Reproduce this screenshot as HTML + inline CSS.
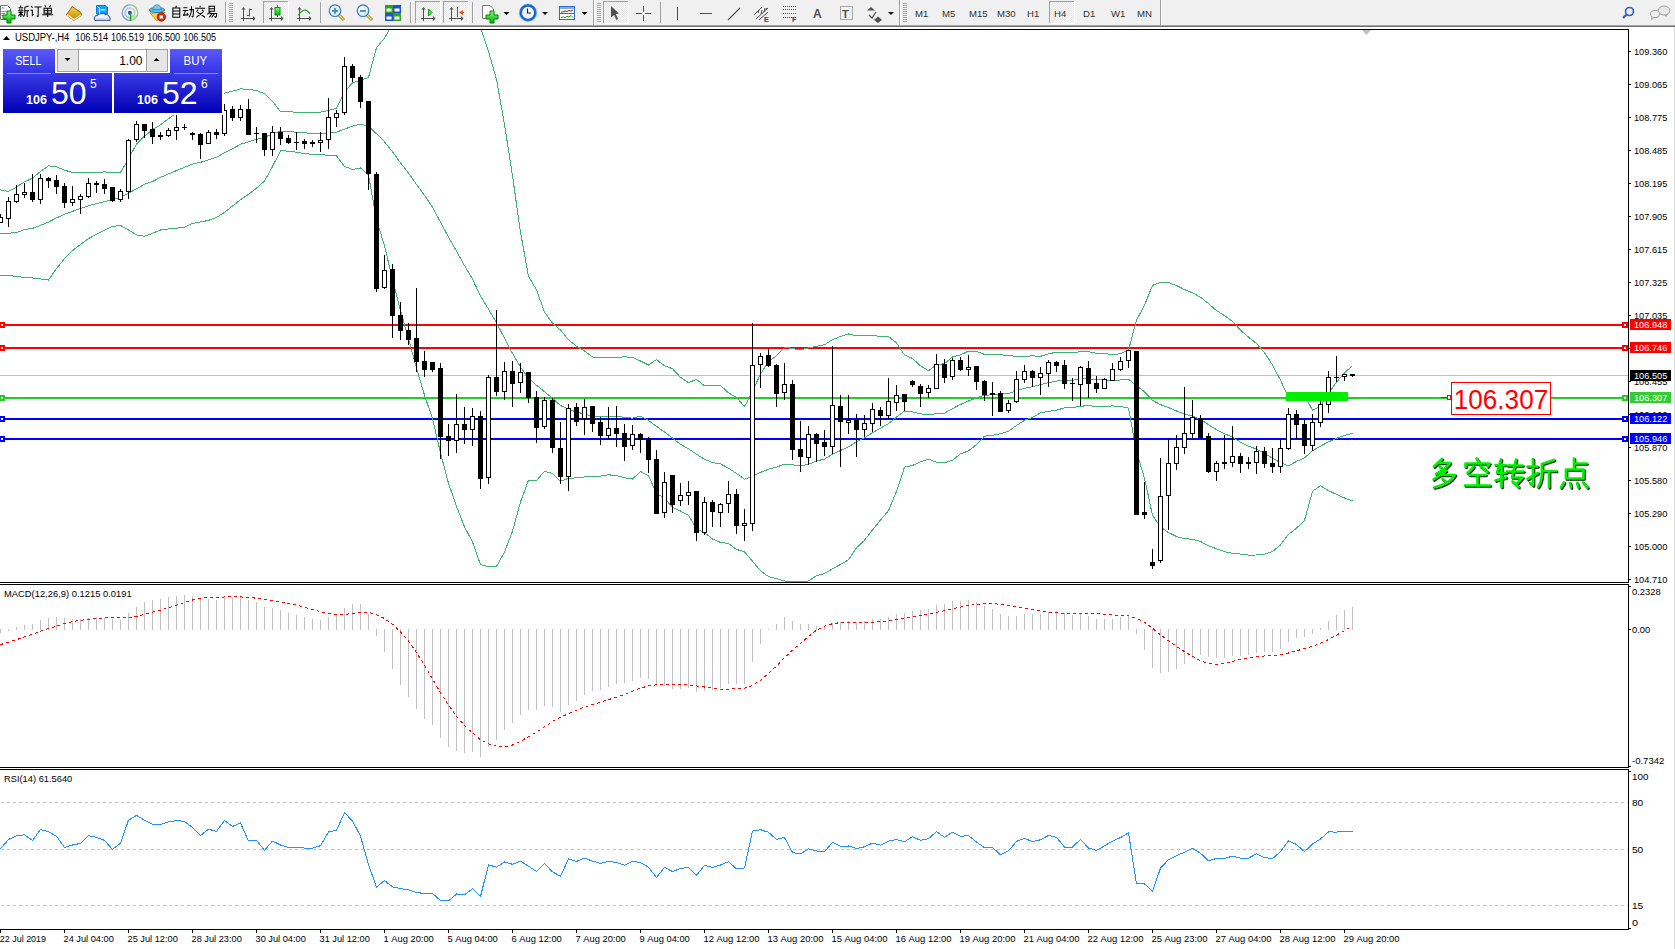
<!DOCTYPE html><html><head><meta charset="utf-8"><style>html,body{margin:0;padding:0;}body{width:1675px;height:949px;overflow:hidden;position:relative;background:#fff;font-family:"Liberation Sans",sans-serif;}text{shape-rendering:auto}</style></head><body><svg width="1675" height="29" style="position:absolute;left:0;top:0"><defs><linearGradient id="tg_gold" x1="0" y1="0" x2="0" y2="1"><stop offset="0" stop-color="#f8d848"/><stop offset="1" stop-color="#b8800c"/></linearGradient><linearGradient id="tg_green" x1="0" y1="0" x2="0" y2="1"><stop offset="0" stop-color="#80ff80"/><stop offset="1" stop-color="#00b000"/></linearGradient><radialGradient id="tg_lens" cx="0.4" cy="0.35" r="0.7"><stop offset="0" stop-color="#ffffff"/><stop offset="1" stop-color="#bfe4f8"/></radialGradient><pattern id="tg_chk" width="2" height="2" patternUnits="userSpaceOnUse"><rect width="2" height="2" fill="#f8f8f8"/><rect width="1" height="1" fill="#e8e8e8"/><rect x="1" y="1" width="1" height="1" fill="#e8e8e8"/></pattern></defs><rect x="0" y="0" width="1675" height="25" fill="#f0f0f0"/><rect x="0" y="25" width="1675" height="1" fill="#a8a8a8"/><rect x="0" y="26" width="1675" height="1" fill="#6e6e6e"/><rect x="0" y="27" width="1675" height="2" fill="#ffffff"/><path d="M0.5 5.5H7.5L10.5 8.5V19.5H0.5Z" fill="#fff" stroke="#7a7a7a"/><path d="M1.5 8h3M1.5 11.5h5M1.5 13.5h4M1.5 15.5h2" stroke="#909090" stroke-width="1"/><path d="M7 11.5h4v-4h4v4h4v4h-4v4h-4v-4h-4z" transform="translate(-4,3.5)" fill="url(#tg_green)" stroke="#008000" stroke-width="1"/><path d="M3 0.2V1.6 M0.6 2.4H5.6 M1.6 3.4L2.2 4.6 M4.6 3.4L4 4.6 M0.2 5.5H6 M0.6 7.4H5.6 M3.1 5.5V12 M3 8.4L0.4 11 M3.2 8.4L5.6 10.6 M11.6 0.6L7.4 2 M7.4 2V7.6Q7.2 10.4 6 12 M7.4 5.6H12 M10 5.6V12" transform="translate(18,5.4) scale(0.917,0.958)" fill="none" stroke="#000" stroke-width="1.1" stroke-linecap="butt"/><path d="M0.8 0.8L2.2 2.4 M0 5H2V10.4L3.6 9 M4.4 1.6H12 M8.4 1.6V11.4Q8.2 12 6.8 10.8" transform="translate(30.5,5.4) scale(0.917,0.958)" fill="none" stroke="#000" stroke-width="1.1" stroke-linecap="butt"/><path d="M2.8 0L4 1.8 M9.2 0L8 1.8 M2 3H10V8.2H2Z M2 5.6H10 M6 3V12 M0 9.8H12" transform="translate(42.2,5.4) scale(0.917,0.958)" fill="none" stroke="#000" stroke-width="1.1" stroke-linecap="butt"/><path d="M6.2 0L5.4 1.8 M2.2 2.2H9.8V12H2.2Z M2.2 5.4H9.8 M2.2 8.6H9.8" transform="translate(170.8,5.8) scale(0.917,0.958)" fill="none" stroke="#000" stroke-width="1.1" stroke-linecap="butt"/><path d="M0.6 2H5 M0 5H6 M3 5L0.8 10L5.6 9.2 M4.6 7.6L6 10 M7 4H11.6Q11.6 10 10.8 11.6L9.6 10.8 M9.4 0.4V5Q9.2 9 6.8 12" transform="translate(182.8,5.8) scale(0.917,0.958)" fill="none" stroke="#000" stroke-width="1.1" stroke-linecap="butt"/><path d="M6 0V1.6 M0.4 2.6H11.6 M4 4L2 6 M8 4L10 6 M9.2 6.6L2 12 M3 6.6L11.4 12" transform="translate(194.6,5.8) scale(0.917,0.958)" fill="none" stroke="#000" stroke-width="1.1" stroke-linecap="butt"/><path d="M3 0.4H9V5.6H3Z M3 3H9 M4.4 6.2L1 9 M3.6 8H11.4Q11.2 11 10.4 12L8.8 11.2 M6.4 8L3.2 12 M9 8L5.8 12" transform="translate(206.3,5.8) scale(0.917,0.958)" fill="none" stroke="#000" stroke-width="1.1" stroke-linecap="butt"/><path d="M71.9 6.5L81 12.6L81.6 15.3L73.9 20.4L66.3 14.8L70.6 9Z" fill="url(#tg_gold)" stroke="#9a6208" stroke-width="1"/><path d="M67 14.6L74 19.6L81 15" fill="none" stroke="#f8e8a0" stroke-width="1.3"/><path d="M96.5 5.5H105L107.5 7V14H96.5Z" fill="#16a0f8" stroke="#0a78d8" stroke-width="1"/><path d="M97 6L99.5 8V14" stroke="#ffffff" stroke-width="0.9" fill="none"/><rect x="100.5" y="9.2" width="5" height="1.2" fill="#e0f4ff"/><path d="M95.5 20.5Q93.6 19.8 94.6 17Q95.4 15.3 97.2 15.6Q98.6 13.2 101.5 13.8Q103.4 12.6 105.5 14.6Q108.2 14.2 109 16.4Q110.6 17.4 109.8 20.5Z" fill="#eef1f8" stroke="#43609a" stroke-width="1.1"/><rect x="96" y="18.5" width="13" height="1.6" fill="#c0c8dc"/><g fill="none" stroke-width="1.3"><path d="M130 20.5A7.8 7.8 0 0 1 130 4.9" stroke="#7a9ce0"/><path d="M130 4.9A7.8 7.8 0 0 1 130 20.5" stroke="#90c0a0"/><path d="M130 17.6A4.9 4.9 0 0 1 130 7.8" stroke="#a0b8e8"/><path d="M130 7.8A4.9 4.9 0 0 1 130 17.6" stroke="#b0d4b0"/></g><path d="M130.5 13V20.8A7.8 7.8 0 0 0 137.2 16.5Z" fill="#a8d8a0" opacity="0.6"/><circle cx="129.9" cy="12.7" r="2" fill="#2050c8"/><rect x="129.8" y="13" width="1.4" height="8" fill="#18a018"/><path d="M150 13L157 20.8L165 12.5Z" fill="#f4d848" stroke="#c09010" stroke-width="1"/><ellipse cx="157" cy="10" rx="7.6" ry="2.6" fill="#60b8e8" stroke="#2a80b0" stroke-width="1"/><path d="M152.5 9.5Q153.5 5 157 4.8Q160.5 5 161.5 9.5Z" fill="#80c8f0" stroke="#2a80b0" stroke-width="0.8"/><circle cx="161.3" cy="17" r="4.2" fill="#e02408" stroke="#a81000" stroke-width="0.8"/><rect x="159.6" y="15.4" width="3.4" height="3.2" fill="#fff"/><rect x="225" y="2" width="1" height="21" fill="#a0a0a0"/><rect x="226" y="2" width="1" height="21" fill="#ffffff"/><rect x="229" y="3" width="4" height="1" fill="#a8a8a8"/><rect x="229" y="5" width="4" height="1" fill="#a8a8a8"/><rect x="229" y="7" width="4" height="1" fill="#a8a8a8"/><rect x="229" y="9" width="4" height="1" fill="#a8a8a8"/><rect x="229" y="11" width="4" height="1" fill="#a8a8a8"/><rect x="229" y="13" width="4" height="1" fill="#a8a8a8"/><rect x="229" y="15" width="4" height="1" fill="#a8a8a8"/><rect x="229" y="17" width="4" height="1" fill="#a8a8a8"/><rect x="229" y="19" width="4" height="1" fill="#a8a8a8"/><rect x="229" y="21" width="4" height="1" fill="#a8a8a8"/><rect x="243" y="8" width="1" height="13" fill="#505050"/><rect x="241" y="18" width="14" height="1" fill="#505050"/><path d="M241.5 9.5L243.5 7L245.5 9.5Z" fill="#505050"/><path d="M253 16L255.5 18.5L253 21Z" fill="#505050"/><path d="M249.5 8.5V16.5M249.5 9.5H252M247 15.5H249.5" stroke="#109010" stroke-width="1" fill="none"/><rect x="263" y="1" width="25" height="22" fill="url(#tg_chk)"/><rect x="263" y="1" width="25" height="1" fill="#a0a0a0"/><rect x="263" y="1" width="1" height="22" fill="#a0a0a0"/><rect x="263" y="23" width="26" height="1" fill="#fff"/><rect x="288" y="1" width="1" height="23" fill="#fff"/><rect x="271" y="8" width="1" height="13" fill="#505050"/><rect x="269" y="18" width="14" height="1" fill="#505050"/><path d="M269.5 9.5L271.5 7L273.5 9.5Z" fill="#505050"/><path d="M281 16L283.5 18.5L281 21Z" fill="#505050"/><rect x="277" y="5" width="1" height="12" fill="#109010"/><rect x="275" y="7.5" width="5" height="7.5" fill="url(#tg_green)" stroke="#109010" stroke-width="1"/><rect x="299" y="8" width="1" height="13" fill="#505050"/><rect x="297" y="18" width="14" height="1" fill="#505050"/><path d="M297.5 9.5L299.5 7L301.5 9.5Z" fill="#505050"/><path d="M309 16L311.5 18.5L309 21Z" fill="#505050"/><path d="M298 15.5Q301 11.5 304 10Q306 9.5 310 13.5" fill="none" stroke="#30a030" stroke-width="1.2"/><rect x="320" y="2" width="1" height="21" fill="#a0a0a0"/><rect x="321" y="2" width="1" height="21" fill="#ffffff"/><path d="M338 14L344 20" stroke="#b08810" stroke-width="3"/><path d="M338.5 14.5L343.5 19.5" stroke="#f0d860" stroke-width="1.4"/><circle cx="335" cy="10.7" r="5.8" fill="url(#tg_lens)" stroke="#3a78c8" stroke-width="1.2"/><rect x="332" y="10" width="6" height="1.8" fill="#4a88b8"/><rect x="334.1" y="7.8" width="1.8" height="6" fill="#4a88b8"/><path d="M366 14L372 20" stroke="#b08810" stroke-width="3"/><path d="M366.5 14.5L371.5 19.5" stroke="#f0d860" stroke-width="1.4"/><circle cx="363" cy="10.7" r="5.8" fill="url(#tg_lens)" stroke="#3a78c8" stroke-width="1.2"/><rect x="360" y="10" width="6" height="1.8" fill="#4a88b8"/><rect x="385" y="5" width="8" height="8" fill="#30a020"/><rect x="393" y="5" width="8" height="8" fill="#2050d0"/><rect x="385" y="13" width="8" height="8" fill="#2050d0"/><rect x="393" y="13" width="8" height="8" fill="#30a020"/><rect x="386.5" y="8.5" width="5" height="3" fill="#fff"/><rect x="394.5" y="8.5" width="5" height="3" fill="#fff"/><rect x="386.5" y="16.5" width="5" height="3" fill="#fff"/><rect x="394.5" y="16.5" width="5" height="3" fill="#fff"/><rect x="410" y="2" width="1" height="21" fill="#a0a0a0"/><rect x="411" y="2" width="1" height="21" fill="#ffffff"/><rect x="415" y="1" width="25" height="22" fill="url(#tg_chk)"/><rect x="415" y="1" width="25" height="1" fill="#a0a0a0"/><rect x="415" y="1" width="1" height="22" fill="#a0a0a0"/><rect x="415" y="23" width="26" height="1" fill="#fff"/><rect x="440" y="1" width="1" height="23" fill="#fff"/><rect x="423" y="8" width="1" height="13" fill="#505050"/><rect x="421" y="18" width="14" height="1" fill="#505050"/><path d="M421.5 9.5L423.5 7L425.5 9.5Z" fill="#505050"/><path d="M433 16L435.5 18.5L433 21Z" fill="#505050"/><path d="M428.5 9V16L432 12.5Z" fill="#50e050" stroke="#10a010" stroke-width="1"/><rect x="443" y="1" width="25" height="22" fill="url(#tg_chk)"/><rect x="443" y="1" width="25" height="1" fill="#a0a0a0"/><rect x="443" y="1" width="1" height="22" fill="#a0a0a0"/><rect x="443" y="23" width="26" height="1" fill="#fff"/><rect x="468" y="1" width="1" height="23" fill="#fff"/><rect x="451" y="8" width="1" height="13" fill="#505050"/><rect x="449" y="18" width="14" height="1" fill="#505050"/><path d="M449.5 9.5L451.5 7L453.5 9.5Z" fill="#505050"/><path d="M461 16L463.5 18.5L461 21Z" fill="#505050"/><rect x="457" y="7" width="1" height="10" fill="#1a70b0"/><path d="M459 12.5L463 10V15Z" fill="#e05010"/><rect x="461" y="12" width="3" height="1" fill="#e05010"/><rect x="472" y="2" width="1" height="21" fill="#a0a0a0"/><rect x="473" y="2" width="1" height="21" fill="#ffffff"/><path d="M482.5 5.5H490L493.5 9V18.5H482.5Z" fill="#fff" stroke="#7a7a7a"/><path d="M7 11.5h4v-4h4v4h4v4h-4v4h-4v-4h-4z" transform="translate(479,3.5)" fill="url(#tg_green)" stroke="#008000" stroke-width="1"/><path d="M503.5 12H509.5L506.5 15Z" fill="#000"/><circle cx="528" cy="12.7" r="7.3" fill="#f4f8ff" stroke="#1868d0" stroke-width="2.6"/><circle cx="528" cy="12.7" r="8.7" fill="none" stroke="#5aa0f0" stroke-width="0.6"/><path d="M527.5 8.5V13H531" stroke="#202020" stroke-width="1.2" fill="none"/><path d="M542 12H548L545 15Z" fill="#000"/><rect x="559.5" y="6.5" width="15" height="13" fill="#fff" stroke="#2a70c0"/><rect x="560" y="7" width="14" height="2" fill="#7ab0e8"/><rect x="560" y="13" width="14" height="1" fill="#2a70c0"/><path d="M561 12L563 12L565 11L567 11.5L569 10.5L571 11L573 10" stroke="#a02010" fill="none"/><path d="M561 17.5L563 17L565 17.5L567 16.5L569 17L571 15.5L573 17.5" stroke="#10a010" fill="none"/><path d="M581.5 12H587.5L584.5 15Z" fill="#000"/><rect x="593" y="0" width="1" height="25" fill="#a0a0a0"/><rect x="594" y="0" width="1" height="25" fill="#fff"/><rect x="597" y="3" width="4" height="1" fill="#a8a8a8"/><rect x="597" y="5" width="4" height="1" fill="#a8a8a8"/><rect x="597" y="7" width="4" height="1" fill="#a8a8a8"/><rect x="597" y="9" width="4" height="1" fill="#a8a8a8"/><rect x="597" y="11" width="4" height="1" fill="#a8a8a8"/><rect x="597" y="13" width="4" height="1" fill="#a8a8a8"/><rect x="597" y="15" width="4" height="1" fill="#a8a8a8"/><rect x="597" y="17" width="4" height="1" fill="#a8a8a8"/><rect x="597" y="19" width="4" height="1" fill="#a8a8a8"/><rect x="597" y="21" width="4" height="1" fill="#a8a8a8"/><rect x="603" y="1" width="25" height="22" fill="url(#tg_chk)"/><rect x="603" y="1" width="25" height="1" fill="#a0a0a0"/><rect x="603" y="1" width="1" height="22" fill="#a0a0a0"/><rect x="603" y="23" width="26" height="1" fill="#fff"/><rect x="628" y="1" width="1" height="23" fill="#fff"/><path d="M611 6L619 13.5L615.8 14L618 19L616.3 20L614.2 15L611 17.5Z" fill="#505050"/><path d="M643.5 6V12M643.5 15V21M636 13.5H642M645 13.5H651" stroke="#505050" stroke-width="1" shape-rendering="crispEdges"/><rect x="660" y="2" width="1" height="21" fill="#a0a0a0"/><rect x="677" y="7" width="1" height="13" fill="#505050"/><rect x="700" y="13" width="12" height="1" fill="#505050"/><path d="M728 20L740 8" stroke="#505050" stroke-width="1.1"/><path d="M754 15L762 7M756 19L768 8M759 20L768 12" stroke="#505050" stroke-width="1"/><path d="M758 13l1-3M761 14l1-4M764 12l1-4M766 10l0.5-2" stroke="#505050" stroke-width="1"/><text x="764" y="22" font-family="Liberation Sans, sans-serif" font-size="7px" font-weight="bold" fill="#404040">E</text><path d="M783 6.5H796" stroke="#505050" stroke-width="1" stroke-dasharray="1 1"/><path d="M783 9.5H796" stroke="#505050" stroke-width="1" stroke-dasharray="1 1"/><path d="M783 13.5H796" stroke="#505050" stroke-width="1" stroke-dasharray="1 1"/><path d="M783 17.5H796" stroke="#505050" stroke-width="1" stroke-dasharray="1 1"/><text x="792" y="22" font-family="Liberation Sans, sans-serif" font-size="7px" font-weight="bold" fill="#404040">F</text><text x="813" y="18" font-family="Liberation Sans, sans-serif" font-size="12px" font-weight="bold" fill="#505050">A</text><rect x="840.5" y="6.5" width="12" height="13" fill="none" stroke="#606060" stroke-dasharray="1 1"/><text x="842" y="18" font-family="Liberation Sans, sans-serif" font-size="11px" font-weight="bold" fill="#505050">T</text><path d="M867 10.5L871 7L875 10.5Z M874 20L878 16.5L882 20L878 23Z" fill="#505050"/><path d="M869 15L872 18L876 12" stroke="#505050" stroke-width="1.3" fill="none"/><path d="M888 12H894L891 15Z" fill="#000"/><rect x="899" y="0" width="1" height="25" fill="#a0a0a0"/><rect x="900" y="0" width="1" height="25" fill="#fff"/><rect x="903" y="3" width="4" height="1" fill="#a8a8a8"/><rect x="903" y="5" width="4" height="1" fill="#a8a8a8"/><rect x="903" y="7" width="4" height="1" fill="#a8a8a8"/><rect x="903" y="9" width="4" height="1" fill="#a8a8a8"/><rect x="903" y="11" width="4" height="1" fill="#a8a8a8"/><rect x="903" y="13" width="4" height="1" fill="#a8a8a8"/><rect x="903" y="15" width="4" height="1" fill="#a8a8a8"/><rect x="903" y="17" width="4" height="1" fill="#a8a8a8"/><rect x="903" y="19" width="4" height="1" fill="#a8a8a8"/><rect x="903" y="21" width="4" height="1" fill="#a8a8a8"/><rect x="1049" y="1" width="25" height="22" fill="url(#tg_chk)"/><rect x="1049" y="1" width="25" height="1" fill="#a0a0a0"/><rect x="1049" y="1" width="1" height="22" fill="#a0a0a0"/><rect x="1049" y="23" width="26" height="1" fill="#fff"/><rect x="1074" y="1" width="1" height="23" fill="#fff"/><text x="915" y="17" font-family="Liberation Sans, sans-serif" font-size="9.6px" fill="#303030">M1</text><text x="942" y="17" font-family="Liberation Sans, sans-serif" font-size="9.6px" fill="#303030">M5</text><text x="969" y="17" font-family="Liberation Sans, sans-serif" font-size="9.6px" fill="#303030">M15</text><text x="997" y="17" font-family="Liberation Sans, sans-serif" font-size="9.6px" fill="#303030">M30</text><text x="1027" y="17" font-family="Liberation Sans, sans-serif" font-size="9.6px" fill="#303030">H1</text><text x="1054" y="17" font-family="Liberation Sans, sans-serif" font-size="9.6px" fill="#303030">H4</text><text x="1083" y="17" font-family="Liberation Sans, sans-serif" font-size="9.6px" fill="#303030">D1</text><text x="1111" y="17" font-family="Liberation Sans, sans-serif" font-size="9.6px" fill="#303030">W1</text><text x="1137" y="17" font-family="Liberation Sans, sans-serif" font-size="9.6px" fill="#303030">MN</text><rect x="1160" y="0" width="1" height="25" fill="#a0a0a0"/><rect x="1161" y="0" width="1" height="25" fill="#fff"/><circle cx="1629.5" cy="11.5" r="4" fill="none" stroke="#2a5ad0" stroke-width="1.6"/><path d="M1626.5 14.5L1623 18" stroke="#2a5ad0" stroke-width="2.2"/><ellipse cx="1664" cy="10.5" rx="5.8" ry="4.5" fill="#e8e8e8" stroke="#a0a0a0"/><path d="M1665 14.5l1 2l1-2.5" fill="#e8e8e8" stroke="#a0a0a0"/><ellipse cx="1655" cy="14" rx="4.5" ry="3.6" fill="#f0f0f0" stroke="#a0a0a0"/><path d="M1652 17.2l-0.5 2.3l2.5-2" fill="#f0f0f0" stroke="#a0a0a0"/></svg><svg width="1675" height="949" viewBox="0 0 1675 949" style="position:absolute;left:0;top:0" shape-rendering="crispEdges"><defs><clipPath id="cm"><rect x="0" y="30" width="1628" height="552"/></clipPath><clipPath id="cd"><rect x="0" y="585" width="1628" height="182"/></clipPath><clipPath id="cr"><rect x="0" y="770" width="1628" height="159"/></clipPath><linearGradient id="gtab" x1="0" y1="0" x2="0" y2="1"><stop offset="0" stop-color="#5a5af8"/><stop offset="1" stop-color="#3434e4"/></linearGradient><linearGradient id="gblk" x1="0" y1="0" x2="0" y2="1"><stop offset="0" stop-color="#3a3ae6"/><stop offset="1" stop-color="#0000b4"/></linearGradient></defs><rect x="0" y="29" width="1629" height="1" fill="#000"/><rect x="1628" y="29" width="1" height="554" fill="#000"/><rect x="0" y="582" width="1629" height="1" fill="#000"/><rect x="0" y="584" width="1629" height="1" fill="#000"/><rect x="1628" y="584" width="1" height="184" fill="#000"/><rect x="0" y="767" width="1629" height="1" fill="#000"/><rect x="0" y="769" width="1629" height="1" fill="#000"/><rect x="1628" y="769" width="1" height="161" fill="#000"/><rect x="0" y="929" width="1629" height="1" fill="#000"/><rect x="1674" y="27" width="1" height="922" fill="#d8d8d8"/><g clip-path="url(#cm)"><rect x="0" y="324" width="1628" height="2" fill="#ff0000"/><rect x="-1" y="322" width="6" height="6" fill="#ff0000"/><rect x="1" y="324" width="2" height="2" fill="#fff"/><rect x="1622" y="322" width="6" height="6" fill="#ff0000"/><rect x="1624" y="324" width="2" height="2" fill="#fff"/><rect x="0" y="347" width="1628" height="2" fill="#ff0000"/><rect x="-1" y="345" width="6" height="6" fill="#ff0000"/><rect x="1" y="347" width="2" height="2" fill="#fff"/><rect x="1622" y="345" width="6" height="6" fill="#ff0000"/><rect x="1624" y="347" width="2" height="2" fill="#fff"/><rect x="0" y="375" width="1628" height="1" fill="#c0c0c0"/><rect x="0" y="397" width="1628" height="2" fill="#22cc22"/><rect x="-1" y="395" width="6" height="6" fill="#22cc22"/><rect x="1" y="397" width="2" height="2" fill="#fff"/><rect x="1622" y="395" width="6" height="6" fill="#22cc22"/><rect x="1624" y="397" width="2" height="2" fill="#fff"/><rect x="0" y="418" width="1628" height="2" fill="#0000ff"/><rect x="-1" y="416" width="6" height="6" fill="#0000ff"/><rect x="1" y="418" width="2" height="2" fill="#fff"/><rect x="1622" y="416" width="6" height="6" fill="#0000ff"/><rect x="1624" y="418" width="2" height="2" fill="#fff"/><rect x="0" y="438" width="1628" height="2" fill="#0000ff"/><rect x="-1" y="436" width="6" height="6" fill="#0000ff"/><rect x="1" y="438" width="2" height="2" fill="#fff"/><rect x="1622" y="436" width="6" height="6" fill="#0000ff"/><rect x="1624" y="438" width="2" height="2" fill="#fff"/><polyline points="-7.5,189.9 0.5,189.9 8.5,191.5 16.5,187.0 24.5,181.9 32.5,178.1 40.5,171.5 48.5,165.8 56.5,166.9 64.5,170.1 72.5,172.5 80.5,172.4 88.5,172.3 96.5,172.1 104.5,172.0 112.5,172.1 120.5,172.4 128.5,159.1 136.5,143.8 144.5,136.1 152.5,129.7 160.5,124.9 168.5,118.8 176.5,112.8 184.5,107.5 192.5,104.6 200.5,102.7 208.5,99.5 216.5,97.3 224.5,93.1 232.5,91.2 240.5,88.9 248.5,89.3 256.5,90.5 264.5,93.7 272.5,101.3 280.5,111.8 288.5,111.7 296.5,112.3 304.5,112.3 312.5,112.2 320.5,112.2 328.5,110.5 336.5,108.3 344.5,91.9 352.5,82.9 360.5,80.3 368.5,77.4 376.5,47.8 384.5,38.1 392.5,24.1 400.5,15.0 408.5,7.2 416.5,0.7 424.5,-4.3 432.5,-3.9 440.5,-8.6 448.5,-9.1 456.5,-3.9 464.5,4.2 472.5,16.2 480.5,27.5 488.5,51.4 496.5,79.4 504.5,124.4 512.5,175.8 520.5,232.1 528.5,276.3 536.5,289.9 544.5,312.1 552.5,323.3 560.5,330.0 568.5,339.8 576.5,346.2 584.5,351.0 592.5,357.0 600.5,357.1 608.5,357.2 616.5,357.3 624.5,356.9 632.5,357.3 640.5,361.0 648.5,365.0 656.5,359.5 664.5,365.8 672.5,368.7 680.5,377.4 688.5,382.6 696.5,379.4 704.5,385.9 712.5,386.0 720.5,385.4 728.5,392.9 736.5,397.4 744.5,406.6 752.5,391.4 760.5,374.0 768.5,361.8 776.5,355.8 784.5,347.2 792.5,348.5 800.5,349.9 808.5,347.9 816.5,346.3 824.5,344.8 832.5,339.5 840.5,336.6 848.5,334.0 856.5,335.8 864.5,335.3 872.5,335.4 880.5,336.5 888.5,336.5 896.5,342.9 904.5,354.9 912.5,358.4 920.5,365.8 928.5,370.7 936.5,364.8 944.5,363.6 952.5,357.0 960.5,354.9 968.5,351.1 976.5,351.3 984.5,354.4 992.5,354.2 1000.5,354.8 1008.5,355.5 1016.5,356.4 1024.5,356.3 1032.5,355.9 1040.5,356.3 1048.5,353.9 1056.5,352.1 1064.5,352.7 1072.5,352.7 1080.5,351.6 1088.5,351.6 1096.5,353.3 1104.5,353.4 1112.5,354.9 1120.5,353.6 1128.5,350.2 1136.5,320.1 1144.5,305.3 1152.5,285.4 1160.5,282.3 1168.5,282.6 1176.5,285.5 1184.5,289.6 1192.5,292.8 1200.5,297.2 1208.5,303.6 1216.5,310.6 1224.5,315.7 1232.5,321.3 1240.5,330.1 1248.5,337.1 1256.5,343.5 1264.5,352.6 1272.5,365.0 1280.5,380.3 1288.5,397.4 1296.5,394.5 1304.5,395.4 1312.5,410.2 1320.5,406.6 1328.5,393.1 1336.5,382.3 1344.5,372.8 1352.5,365.8" fill="none" stroke="#3cb371" stroke-width="1"/><polyline points="-7.5,233.2 0.5,233.2 8.5,233.2 16.5,232.5 24.5,229.6 32.5,228.4 40.5,225.3 48.5,222.1 56.5,217.9 64.5,214.3 72.5,211.4 80.5,208.4 88.5,205.8 96.5,203.6 104.5,201.7 112.5,199.8 120.5,197.2 128.5,193.2 136.5,188.8 144.5,184.3 152.5,181.5 160.5,177.4 168.5,173.9 176.5,170.6 184.5,167.3 192.5,164.1 200.5,162.3 208.5,159.9 216.5,157.3 224.5,152.8 232.5,148.7 240.5,144.3 248.5,141.8 256.5,139.3 264.5,137.3 272.5,133.9 280.5,131.3 288.5,131.4 296.5,132.3 304.5,132.9 312.5,133.3 320.5,133.5 328.5,132.8 336.5,132.2 344.5,129.1 352.5,126.2 360.5,124.1 368.5,126.2 376.5,133.8 384.5,141.8 392.5,151.8 400.5,162.8 408.5,173.1 416.5,184.4 424.5,195.4 432.5,207.3 440.5,222.2 448.5,237.1 456.5,251.2 464.5,265.5 472.5,279.1 480.5,296.1 488.5,309.1 496.5,322.9 504.5,338.2 512.5,353.5 520.5,367.1 528.5,378.2 536.5,385.2 544.5,391.7 552.5,398.3 560.5,405.6 568.5,409.1 576.5,412.1 584.5,413.9 592.5,416.6 600.5,416.6 608.5,416.0 616.5,416.4 624.5,417.3 632.5,418.2 640.5,416.2 648.5,420.4 656.5,426.4 664.5,432.0 672.5,438.1 680.5,444.2 688.5,448.9 696.5,454.2 704.5,459.3 712.5,462.5 720.5,463.9 728.5,468.2 736.5,473.4 744.5,479.2 752.5,476.3 760.5,472.4 768.5,469.2 776.5,467.2 784.5,464.1 792.5,464.9 800.5,465.7 808.5,464.4 816.5,460.9 824.5,459.1 832.5,454.2 840.5,450.5 848.5,446.9 856.5,441.8 864.5,437.8 872.5,432.7 880.5,428.2 888.5,423.6 896.5,417.1 904.5,411.0 912.5,411.9 920.5,413.8 928.5,414.9 936.5,413.5 944.5,413.1 952.5,408.7 960.5,404.4 968.5,401.0 976.5,397.9 984.5,395.3 992.5,394.8 1000.5,394.2 1008.5,393.4 1016.5,390.9 1024.5,388.3 1032.5,386.7 1040.5,384.6 1048.5,382.6 1056.5,381.1 1064.5,380.2 1072.5,380.2 1080.5,378.9 1088.5,378.6 1096.5,379.9 1104.5,379.9 1112.5,380.4 1120.5,380.0 1128.5,379.1 1136.5,385.8 1144.5,391.8 1152.5,400.4 1160.5,404.6 1168.5,407.6 1176.5,411.0 1184.5,414.1 1192.5,416.1 1200.5,419.3 1208.5,424.8 1216.5,429.6 1224.5,433.6 1232.5,437.3 1240.5,442.1 1248.5,446.1 1256.5,449.2 1264.5,453.4 1272.5,458.3 1280.5,462.6 1288.5,465.9 1296.5,461.4 1304.5,457.9 1312.5,450.8 1320.5,446.1 1328.5,441.9 1336.5,438.4 1344.5,435.4 1352.5,433.3" fill="none" stroke="#3cb371" stroke-width="1"/><polyline points="-7.5,275.2 0.5,275.2 8.5,275.5 16.5,276.4 24.5,277.5 32.5,277.9 40.5,279.0 48.5,280.1 56.5,268.4 64.5,258.7 72.5,250.7 80.5,244.4 88.5,238.6 96.5,234.3 104.5,230.3 112.5,226.4 120.5,225.5 128.5,230.0 136.5,234.9 144.5,236.3 152.5,233.3 160.5,230.0 168.5,229.0 176.5,228.3 184.5,227.1 192.5,223.5 200.5,222.0 208.5,220.4 216.5,217.4 224.5,212.4 232.5,206.1 240.5,199.7 248.5,194.4 256.5,188.1 264.5,181.0 272.5,166.6 280.5,150.8 288.5,151.1 296.5,152.3 304.5,153.6 312.5,154.4 320.5,154.8 328.5,155.2 336.5,156.0 344.5,166.3 352.5,169.6 360.5,167.9 368.5,174.9 376.5,219.9 384.5,245.6 392.5,279.4 400.5,310.6 408.5,338.9 416.5,368.2 424.5,395.2 432.5,418.5 440.5,453.0 448.5,483.3 456.5,506.3 464.5,526.8 472.5,542.1 480.5,564.6 488.5,566.7 496.5,566.5 504.5,552.0 512.5,531.2 520.5,502.0 528.5,480.2 536.5,480.5 544.5,471.3 552.5,473.3 560.5,481.2 568.5,478.3 576.5,477.9 584.5,476.9 592.5,476.3 600.5,476.1 608.5,474.8 616.5,475.6 624.5,477.7 632.5,479.1 640.5,471.5 648.5,475.7 656.5,493.4 664.5,498.2 672.5,507.4 680.5,511.0 688.5,515.3 696.5,529.0 704.5,532.7 712.5,539.0 720.5,542.4 728.5,543.5 736.5,549.4 744.5,551.8 752.5,561.2 760.5,570.7 768.5,576.6 776.5,578.6 784.5,581.0 792.5,581.2 800.5,581.5 808.5,581.0 816.5,575.6 824.5,573.5 832.5,568.9 840.5,564.4 848.5,559.8 856.5,547.7 864.5,540.3 872.5,530.0 880.5,520.0 888.5,510.7 896.5,491.3 904.5,467.1 912.5,465.5 920.5,461.8 928.5,459.2 936.5,462.2 944.5,462.7 952.5,460.4 960.5,453.8 968.5,450.9 976.5,444.5 984.5,436.2 992.5,435.3 1000.5,433.7 1008.5,431.3 1016.5,425.4 1024.5,420.3 1032.5,417.5 1040.5,412.9 1048.5,411.4 1056.5,410.2 1064.5,407.8 1072.5,407.7 1080.5,406.2 1088.5,405.7 1096.5,406.4 1104.5,406.5 1112.5,405.9 1120.5,406.4 1128.5,408.1 1136.5,451.5 1144.5,478.3 1152.5,515.3 1160.5,526.9 1168.5,532.6 1176.5,536.5 1184.5,538.6 1192.5,539.4 1200.5,541.4 1208.5,545.9 1216.5,548.7 1224.5,551.6 1232.5,553.3 1240.5,554.1 1248.5,555.1 1256.5,555.0 1264.5,554.3 1272.5,551.6 1280.5,545.0 1288.5,534.3 1296.5,528.2 1304.5,520.4 1312.5,491.3 1320.5,485.7 1328.5,490.6 1336.5,494.4 1344.5,498.0 1352.5,500.8" fill="none" stroke="#3cb371" stroke-width="1"/><rect x="0" y="214" width="1" height="9" fill="#000"/><rect x="-2" y="217" width="5" height="6" fill="#000"/><rect x="-1" y="218" width="3" height="4" fill="#fff"/><rect x="8" y="197" width="1" height="30" fill="#000"/><rect x="6" y="201" width="5" height="18" fill="#000"/><rect x="7" y="202" width="3" height="16" fill="#fff"/><rect x="16" y="185" width="1" height="18" fill="#000"/><rect x="14" y="194" width="5" height="8" fill="#000"/><rect x="15" y="195" width="3" height="6" fill="#fff"/><rect x="24" y="183" width="1" height="15" fill="#000"/><rect x="22" y="192" width="5" height="3" fill="#000"/><rect x="23" y="193" width="3" height="1" fill="#fff"/><rect x="32" y="174" width="1" height="28" fill="#000"/><rect x="30" y="192" width="5" height="8" fill="#000"/><rect x="40" y="174" width="1" height="30" fill="#000"/><rect x="38" y="178" width="5" height="22" fill="#000"/><rect x="39" y="179" width="3" height="20" fill="#fff"/><rect x="48" y="177" width="1" height="11" fill="#000"/><rect x="46" y="178" width="5" height="3" fill="#000"/><rect x="56" y="175" width="1" height="19" fill="#000"/><rect x="54" y="180" width="5" height="7" fill="#000"/><rect x="64" y="183" width="1" height="25" fill="#000"/><rect x="62" y="186" width="5" height="17" fill="#000"/><rect x="72" y="186" width="1" height="20" fill="#000"/><rect x="70" y="199" width="5" height="4" fill="#000"/><rect x="71" y="200" width="3" height="2" fill="#fff"/><rect x="80" y="194" width="1" height="20" fill="#000"/><rect x="78" y="196" width="5" height="4" fill="#000"/><rect x="79" y="197" width="3" height="2" fill="#fff"/><rect x="88" y="178" width="1" height="20" fill="#000"/><rect x="86" y="183" width="5" height="14" fill="#000"/><rect x="87" y="184" width="3" height="12" fill="#fff"/><rect x="96" y="181" width="1" height="12" fill="#000"/><rect x="94" y="183" width="5" height="2" fill="#000"/><rect x="104" y="179" width="1" height="15" fill="#000"/><rect x="102" y="184" width="5" height="5" fill="#000"/><rect x="112" y="187" width="1" height="15" fill="#000"/><rect x="110" y="187" width="5" height="14" fill="#000"/><rect x="120" y="189" width="1" height="13" fill="#000"/><rect x="118" y="191" width="5" height="9" fill="#000"/><rect x="119" y="192" width="3" height="7" fill="#fff"/><rect x="128" y="139" width="1" height="60" fill="#000"/><rect x="126" y="140" width="5" height="52" fill="#000"/><rect x="127" y="141" width="3" height="50" fill="#fff"/><rect x="136" y="121" width="1" height="21" fill="#000"/><rect x="134" y="124" width="5" height="16" fill="#000"/><rect x="135" y="125" width="3" height="14" fill="#fff"/><rect x="144" y="124" width="1" height="14" fill="#000"/><rect x="142" y="124" width="5" height="7" fill="#000"/><rect x="152" y="122" width="1" height="22" fill="#000"/><rect x="150" y="129" width="5" height="8" fill="#000"/><rect x="160" y="132" width="1" height="8" fill="#000"/><rect x="158" y="135" width="5" height="2" fill="#000"/><rect x="168" y="128" width="1" height="9" fill="#000"/><rect x="166" y="130" width="5" height="6" fill="#000"/><rect x="167" y="131" width="3" height="4" fill="#fff"/><rect x="176" y="115" width="1" height="25" fill="#000"/><rect x="174" y="127" width="5" height="4" fill="#000"/><rect x="175" y="128" width="3" height="2" fill="#fff"/><rect x="184" y="124" width="1" height="6" fill="#000"/><rect x="182" y="127" width="5" height="1" fill="#000"/><rect x="192" y="132" width="1" height="8" fill="#000"/><rect x="190" y="133" width="5" height="2" fill="#000"/><rect x="200" y="133" width="1" height="26" fill="#000"/><rect x="198" y="134" width="5" height="11" fill="#000"/><rect x="208" y="130" width="1" height="14" fill="#000"/><rect x="206" y="132" width="5" height="12" fill="#000"/><rect x="207" y="133" width="3" height="10" fill="#fff"/><rect x="216" y="129" width="1" height="10" fill="#000"/><rect x="214" y="132" width="5" height="3" fill="#000"/><rect x="224" y="104" width="1" height="32" fill="#000"/><rect x="222" y="110" width="5" height="24" fill="#000"/><rect x="223" y="111" width="3" height="22" fill="#fff"/><rect x="232" y="106" width="1" height="15" fill="#000"/><rect x="230" y="109" width="5" height="9" fill="#000"/><rect x="240" y="105" width="1" height="16" fill="#000"/><rect x="238" y="109" width="5" height="9" fill="#000"/><rect x="239" y="110" width="3" height="7" fill="#fff"/><rect x="248" y="99" width="1" height="36" fill="#000"/><rect x="246" y="109" width="5" height="26" fill="#000"/><rect x="256" y="127" width="1" height="16" fill="#000"/><rect x="254" y="133" width="5" height="1" fill="#000"/><rect x="264" y="133" width="1" height="23" fill="#000"/><rect x="262" y="133" width="5" height="17" fill="#000"/><rect x="272" y="126" width="1" height="30" fill="#000"/><rect x="270" y="132" width="5" height="18" fill="#000"/><rect x="271" y="133" width="3" height="16" fill="#fff"/><rect x="280" y="127" width="1" height="18" fill="#000"/><rect x="278" y="132" width="5" height="7" fill="#000"/><rect x="288" y="135" width="1" height="9" fill="#000"/><rect x="286" y="138" width="5" height="5" fill="#000"/><rect x="296" y="132" width="1" height="18" fill="#000"/><rect x="294" y="142" width="5" height="1" fill="#000"/><rect x="304" y="139" width="1" height="10" fill="#000"/><rect x="302" y="141" width="5" height="3" fill="#000"/><rect x="312" y="140" width="1" height="7" fill="#000"/><rect x="310" y="142" width="5" height="2" fill="#000"/><rect x="320" y="132" width="1" height="20" fill="#000"/><rect x="318" y="140" width="5" height="3" fill="#000"/><rect x="319" y="141" width="3" height="1" fill="#fff"/><rect x="328" y="98" width="1" height="51" fill="#000"/><rect x="326" y="117" width="5" height="23" fill="#000"/><rect x="327" y="118" width="3" height="21" fill="#fff"/><rect x="336" y="110" width="1" height="17" fill="#000"/><rect x="334" y="113" width="5" height="5" fill="#000"/><rect x="335" y="114" width="3" height="3" fill="#fff"/><rect x="344" y="57" width="1" height="58" fill="#000"/><rect x="342" y="66" width="5" height="47" fill="#000"/><rect x="343" y="67" width="3" height="45" fill="#fff"/><rect x="352" y="64" width="1" height="18" fill="#000"/><rect x="350" y="66" width="5" height="12" fill="#000"/><rect x="360" y="75" width="1" height="33" fill="#000"/><rect x="358" y="77" width="5" height="25" fill="#000"/><rect x="368" y="101" width="1" height="89" fill="#000"/><rect x="366" y="101" width="5" height="73" fill="#000"/><rect x="376" y="172" width="1" height="120" fill="#000"/><rect x="374" y="174" width="5" height="115" fill="#000"/><rect x="384" y="255" width="1" height="34" fill="#000"/><rect x="382" y="270" width="5" height="18" fill="#000"/><rect x="383" y="271" width="3" height="16" fill="#fff"/><rect x="392" y="264" width="1" height="74" fill="#000"/><rect x="390" y="269" width="5" height="47" fill="#000"/><rect x="400" y="302" width="1" height="38" fill="#000"/><rect x="398" y="315" width="5" height="16" fill="#000"/><rect x="408" y="323" width="1" height="22" fill="#000"/><rect x="406" y="330" width="5" height="10" fill="#000"/><rect x="416" y="288" width="1" height="84" fill="#000"/><rect x="414" y="338" width="5" height="24" fill="#000"/><rect x="424" y="351" width="1" height="26" fill="#000"/><rect x="422" y="361" width="5" height="9" fill="#000"/><rect x="432" y="362" width="1" height="10" fill="#000"/><rect x="430" y="362" width="5" height="8" fill="#000"/><rect x="440" y="363" width="1" height="96" fill="#000"/><rect x="438" y="368" width="5" height="69" fill="#000"/><rect x="448" y="424" width="1" height="32" fill="#000"/><rect x="446" y="436" width="5" height="5" fill="#000"/><rect x="456" y="394" width="1" height="59" fill="#000"/><rect x="454" y="424" width="5" height="17" fill="#000"/><rect x="455" y="425" width="3" height="15" fill="#fff"/><rect x="464" y="407" width="1" height="37" fill="#000"/><rect x="462" y="424" width="5" height="6" fill="#000"/><rect x="472" y="408" width="1" height="38" fill="#000"/><rect x="470" y="416" width="5" height="14" fill="#000"/><rect x="471" y="417" width="3" height="12" fill="#fff"/><rect x="480" y="411" width="1" height="78" fill="#000"/><rect x="478" y="416" width="5" height="63" fill="#000"/><rect x="488" y="375" width="1" height="109" fill="#000"/><rect x="486" y="377" width="5" height="101" fill="#000"/><rect x="487" y="378" width="3" height="99" fill="#fff"/><rect x="496" y="310" width="1" height="86" fill="#000"/><rect x="494" y="377" width="5" height="15" fill="#000"/><rect x="504" y="362" width="1" height="38" fill="#000"/><rect x="502" y="371" width="5" height="21" fill="#000"/><rect x="503" y="372" width="3" height="19" fill="#fff"/><rect x="512" y="361" width="1" height="46" fill="#000"/><rect x="510" y="371" width="5" height="13" fill="#000"/><rect x="520" y="363" width="1" height="30" fill="#000"/><rect x="518" y="372" width="5" height="11" fill="#000"/><rect x="519" y="373" width="3" height="9" fill="#fff"/><rect x="528" y="372" width="1" height="31" fill="#000"/><rect x="526" y="372" width="5" height="26" fill="#000"/><rect x="536" y="391" width="1" height="52" fill="#000"/><rect x="534" y="397" width="5" height="31" fill="#000"/><rect x="544" y="397" width="1" height="32" fill="#000"/><rect x="542" y="400" width="5" height="27" fill="#000"/><rect x="543" y="401" width="3" height="25" fill="#fff"/><rect x="552" y="398" width="1" height="55" fill="#000"/><rect x="550" y="400" width="5" height="48" fill="#000"/><rect x="560" y="422" width="1" height="62" fill="#000"/><rect x="558" y="448" width="5" height="29" fill="#000"/><rect x="568" y="404" width="1" height="87" fill="#000"/><rect x="566" y="408" width="5" height="69" fill="#000"/><rect x="567" y="409" width="3" height="67" fill="#fff"/><rect x="576" y="403" width="1" height="23" fill="#000"/><rect x="574" y="407" width="5" height="15" fill="#000"/><rect x="584" y="399" width="1" height="36" fill="#000"/><rect x="582" y="407" width="5" height="12" fill="#000"/><rect x="583" y="408" width="3" height="10" fill="#fff"/><rect x="592" y="406" width="1" height="26" fill="#000"/><rect x="590" y="406" width="5" height="18" fill="#000"/><rect x="600" y="417" width="1" height="28" fill="#000"/><rect x="598" y="422" width="5" height="14" fill="#000"/><rect x="608" y="407" width="1" height="32" fill="#000"/><rect x="606" y="428" width="5" height="8" fill="#000"/><rect x="607" y="429" width="3" height="6" fill="#fff"/><rect x="616" y="406" width="1" height="41" fill="#000"/><rect x="614" y="428" width="5" height="6" fill="#000"/><rect x="624" y="424" width="1" height="37" fill="#000"/><rect x="622" y="433" width="5" height="14" fill="#000"/><rect x="632" y="425" width="1" height="25" fill="#000"/><rect x="630" y="434" width="5" height="12" fill="#000"/><rect x="631" y="435" width="3" height="10" fill="#fff"/><rect x="640" y="433" width="1" height="20" fill="#000"/><rect x="638" y="434" width="5" height="6" fill="#000"/><rect x="648" y="437" width="1" height="36" fill="#000"/><rect x="646" y="439" width="5" height="21" fill="#000"/><rect x="656" y="450" width="1" height="64" fill="#000"/><rect x="654" y="459" width="5" height="55" fill="#000"/><rect x="664" y="472" width="1" height="46" fill="#000"/><rect x="662" y="482" width="5" height="31" fill="#000"/><rect x="663" y="483" width="3" height="29" fill="#fff"/><rect x="672" y="475" width="1" height="38" fill="#000"/><rect x="670" y="475" width="5" height="30" fill="#000"/><rect x="680" y="483" width="1" height="23" fill="#000"/><rect x="678" y="495" width="5" height="6" fill="#000"/><rect x="679" y="496" width="3" height="4" fill="#fff"/><rect x="688" y="481" width="1" height="24" fill="#000"/><rect x="686" y="492" width="5" height="4" fill="#000"/><rect x="687" y="493" width="3" height="2" fill="#fff"/><rect x="696" y="491" width="1" height="50" fill="#000"/><rect x="694" y="491" width="5" height="42" fill="#000"/><rect x="704" y="497" width="1" height="38" fill="#000"/><rect x="702" y="502" width="5" height="31" fill="#000"/><rect x="703" y="503" width="3" height="29" fill="#fff"/><rect x="712" y="500" width="1" height="27" fill="#000"/><rect x="710" y="502" width="5" height="10" fill="#000"/><rect x="720" y="503" width="1" height="24" fill="#000"/><rect x="718" y="504" width="5" height="9" fill="#000"/><rect x="719" y="505" width="3" height="7" fill="#fff"/><rect x="728" y="481" width="1" height="32" fill="#000"/><rect x="726" y="494" width="5" height="10" fill="#000"/><rect x="727" y="495" width="3" height="8" fill="#fff"/><rect x="736" y="489" width="1" height="45" fill="#000"/><rect x="734" y="494" width="5" height="32" fill="#000"/><rect x="744" y="509" width="1" height="32" fill="#000"/><rect x="742" y="523" width="5" height="3" fill="#000"/><rect x="743" y="524" width="3" height="1" fill="#fff"/><rect x="752" y="323" width="1" height="208" fill="#000"/><rect x="750" y="365" width="5" height="159" fill="#000"/><rect x="751" y="366" width="3" height="157" fill="#fff"/><rect x="760" y="353" width="1" height="35" fill="#000"/><rect x="758" y="356" width="5" height="9" fill="#000"/><rect x="759" y="357" width="3" height="7" fill="#fff"/><rect x="768" y="349" width="1" height="18" fill="#000"/><rect x="766" y="355" width="5" height="11" fill="#000"/><rect x="776" y="364" width="1" height="43" fill="#000"/><rect x="774" y="365" width="5" height="29" fill="#000"/><rect x="784" y="363" width="1" height="37" fill="#000"/><rect x="782" y="384" width="5" height="9" fill="#000"/><rect x="783" y="385" width="3" height="7" fill="#fff"/><rect x="792" y="380" width="1" height="80" fill="#000"/><rect x="790" y="384" width="5" height="66" fill="#000"/><rect x="800" y="421" width="1" height="51" fill="#000"/><rect x="798" y="449" width="5" height="8" fill="#000"/><rect x="808" y="426" width="1" height="39" fill="#000"/><rect x="806" y="434" width="5" height="24" fill="#000"/><rect x="807" y="435" width="3" height="22" fill="#fff"/><rect x="816" y="433" width="1" height="29" fill="#000"/><rect x="814" y="434" width="5" height="10" fill="#000"/><rect x="824" y="430" width="1" height="26" fill="#000"/><rect x="822" y="442" width="5" height="5" fill="#000"/><rect x="832" y="346" width="1" height="108" fill="#000"/><rect x="830" y="405" width="5" height="42" fill="#000"/><rect x="831" y="406" width="3" height="40" fill="#fff"/><rect x="840" y="395" width="1" height="72" fill="#000"/><rect x="838" y="406" width="5" height="16" fill="#000"/><rect x="848" y="395" width="1" height="39" fill="#000"/><rect x="846" y="420" width="5" height="3" fill="#000"/><rect x="847" y="421" width="3" height="1" fill="#fff"/><rect x="856" y="414" width="1" height="43" fill="#000"/><rect x="854" y="420" width="5" height="10" fill="#000"/><rect x="864" y="415" width="1" height="22" fill="#000"/><rect x="862" y="423" width="5" height="7" fill="#000"/><rect x="863" y="424" width="3" height="5" fill="#fff"/><rect x="872" y="403" width="1" height="29" fill="#000"/><rect x="870" y="409" width="5" height="15" fill="#000"/><rect x="871" y="410" width="3" height="13" fill="#fff"/><rect x="880" y="407" width="1" height="19" fill="#000"/><rect x="878" y="410" width="5" height="6" fill="#000"/><rect x="888" y="378" width="1" height="41" fill="#000"/><rect x="886" y="401" width="5" height="15" fill="#000"/><rect x="887" y="402" width="3" height="13" fill="#fff"/><rect x="896" y="385" width="1" height="26" fill="#000"/><rect x="894" y="395" width="5" height="8" fill="#000"/><rect x="895" y="396" width="3" height="6" fill="#fff"/><rect x="904" y="394" width="1" height="17" fill="#000"/><rect x="902" y="394" width="5" height="8" fill="#000"/><rect x="912" y="380" width="1" height="7" fill="#000"/><rect x="910" y="381" width="5" height="4" fill="#000"/><rect x="920" y="384" width="1" height="23" fill="#000"/><rect x="918" y="386" width="5" height="8" fill="#000"/><rect x="928" y="385" width="1" height="13" fill="#000"/><rect x="926" y="388" width="5" height="5" fill="#000"/><rect x="927" y="389" width="3" height="3" fill="#fff"/><rect x="936" y="354" width="1" height="35" fill="#000"/><rect x="934" y="364" width="5" height="25" fill="#000"/><rect x="935" y="365" width="3" height="23" fill="#fff"/><rect x="944" y="359" width="1" height="24" fill="#000"/><rect x="942" y="364" width="5" height="14" fill="#000"/><rect x="952" y="358" width="1" height="22" fill="#000"/><rect x="950" y="360" width="5" height="17" fill="#000"/><rect x="951" y="361" width="3" height="15" fill="#fff"/><rect x="960" y="357" width="1" height="14" fill="#000"/><rect x="958" y="360" width="5" height="10" fill="#000"/><rect x="968" y="355" width="1" height="21" fill="#000"/><rect x="966" y="367" width="5" height="3" fill="#000"/><rect x="967" y="368" width="3" height="1" fill="#fff"/><rect x="976" y="366" width="1" height="24" fill="#000"/><rect x="974" y="366" width="5" height="16" fill="#000"/><rect x="984" y="380" width="1" height="21" fill="#000"/><rect x="982" y="381" width="5" height="14" fill="#000"/><rect x="992" y="382" width="1" height="34" fill="#000"/><rect x="990" y="393" width="5" height="2" fill="#000"/><rect x="1000" y="391" width="1" height="21" fill="#000"/><rect x="998" y="393" width="5" height="19" fill="#000"/><rect x="1008" y="400" width="1" height="13" fill="#000"/><rect x="1006" y="403" width="5" height="8" fill="#000"/><rect x="1007" y="404" width="3" height="6" fill="#fff"/><rect x="1016" y="371" width="1" height="32" fill="#000"/><rect x="1014" y="379" width="5" height="23" fill="#000"/><rect x="1015" y="380" width="3" height="21" fill="#fff"/><rect x="1024" y="365" width="1" height="18" fill="#000"/><rect x="1022" y="371" width="5" height="9" fill="#000"/><rect x="1023" y="372" width="3" height="7" fill="#fff"/><rect x="1032" y="370" width="1" height="17" fill="#000"/><rect x="1030" y="371" width="5" height="7" fill="#000"/><rect x="1040" y="367" width="1" height="28" fill="#000"/><rect x="1038" y="373" width="5" height="5" fill="#000"/><rect x="1039" y="374" width="3" height="3" fill="#fff"/><rect x="1048" y="360" width="1" height="27" fill="#000"/><rect x="1046" y="362" width="5" height="12" fill="#000"/><rect x="1047" y="363" width="3" height="10" fill="#fff"/><rect x="1056" y="361" width="1" height="11" fill="#000"/><rect x="1054" y="362" width="5" height="4" fill="#000"/><rect x="1064" y="360" width="1" height="29" fill="#000"/><rect x="1062" y="365" width="5" height="19" fill="#000"/><rect x="1072" y="378" width="1" height="23" fill="#000"/><rect x="1070" y="383" width="5" height="1" fill="#000"/><rect x="1080" y="366" width="1" height="40" fill="#000"/><rect x="1078" y="367" width="5" height="18" fill="#000"/><rect x="1079" y="368" width="3" height="16" fill="#fff"/><rect x="1088" y="361" width="1" height="37" fill="#000"/><rect x="1086" y="368" width="5" height="16" fill="#000"/><rect x="1096" y="376" width="1" height="17" fill="#000"/><rect x="1094" y="383" width="5" height="6" fill="#000"/><rect x="1104" y="378" width="1" height="11" fill="#000"/><rect x="1102" y="379" width="5" height="10" fill="#000"/><rect x="1103" y="380" width="3" height="8" fill="#fff"/><rect x="1112" y="363" width="1" height="18" fill="#000"/><rect x="1110" y="369" width="5" height="12" fill="#000"/><rect x="1111" y="370" width="3" height="10" fill="#fff"/><rect x="1120" y="357" width="1" height="14" fill="#000"/><rect x="1118" y="361" width="5" height="9" fill="#000"/><rect x="1119" y="362" width="3" height="7" fill="#fff"/><rect x="1128" y="350" width="1" height="18" fill="#000"/><rect x="1126" y="350" width="5" height="11" fill="#000"/><rect x="1127" y="351" width="3" height="9" fill="#fff"/><rect x="1136" y="351" width="1" height="164" fill="#000"/><rect x="1134" y="351" width="5" height="164" fill="#000"/><rect x="1144" y="482" width="1" height="37" fill="#000"/><rect x="1142" y="512" width="5" height="3" fill="#000"/><rect x="1152" y="549" width="1" height="20" fill="#000"/><rect x="1150" y="562" width="5" height="4" fill="#000"/><rect x="1160" y="458" width="1" height="105" fill="#000"/><rect x="1158" y="496" width="5" height="65" fill="#000"/><rect x="1159" y="497" width="3" height="63" fill="#fff"/><rect x="1168" y="439" width="1" height="91" fill="#000"/><rect x="1166" y="463" width="5" height="33" fill="#000"/><rect x="1167" y="464" width="3" height="31" fill="#fff"/><rect x="1176" y="435" width="1" height="35" fill="#000"/><rect x="1174" y="447" width="5" height="17" fill="#000"/><rect x="1175" y="448" width="3" height="15" fill="#fff"/><rect x="1184" y="387" width="1" height="67" fill="#000"/><rect x="1182" y="433" width="5" height="15" fill="#000"/><rect x="1183" y="434" width="3" height="13" fill="#fff"/><rect x="1192" y="400" width="1" height="39" fill="#000"/><rect x="1190" y="417" width="5" height="17" fill="#000"/><rect x="1191" y="418" width="3" height="15" fill="#fff"/><rect x="1200" y="415" width="1" height="23" fill="#000"/><rect x="1198" y="418" width="5" height="20" fill="#000"/><rect x="1208" y="433" width="1" height="40" fill="#000"/><rect x="1206" y="436" width="5" height="36" fill="#000"/><rect x="1216" y="461" width="1" height="20" fill="#000"/><rect x="1214" y="463" width="5" height="9" fill="#000"/><rect x="1215" y="464" width="3" height="7" fill="#fff"/><rect x="1224" y="435" width="1" height="34" fill="#000"/><rect x="1222" y="462" width="5" height="2" fill="#000"/><rect x="1232" y="426" width="1" height="41" fill="#000"/><rect x="1230" y="456" width="5" height="7" fill="#000"/><rect x="1231" y="457" width="3" height="5" fill="#fff"/><rect x="1240" y="453" width="1" height="20" fill="#000"/><rect x="1238" y="456" width="5" height="8" fill="#000"/><rect x="1248" y="457" width="1" height="12" fill="#000"/><rect x="1246" y="462" width="5" height="2" fill="#000"/><rect x="1256" y="446" width="1" height="28" fill="#000"/><rect x="1254" y="451" width="5" height="12" fill="#000"/><rect x="1255" y="452" width="3" height="10" fill="#fff"/><rect x="1264" y="447" width="1" height="21" fill="#000"/><rect x="1262" y="451" width="5" height="13" fill="#000"/><rect x="1272" y="448" width="1" height="25" fill="#000"/><rect x="1270" y="463" width="5" height="4" fill="#000"/><rect x="1280" y="439" width="1" height="34" fill="#000"/><rect x="1278" y="448" width="5" height="19" fill="#000"/><rect x="1279" y="449" width="3" height="17" fill="#fff"/><rect x="1288" y="408" width="1" height="42" fill="#000"/><rect x="1286" y="414" width="5" height="35" fill="#000"/><rect x="1287" y="415" width="3" height="33" fill="#fff"/><rect x="1296" y="410" width="1" height="29" fill="#000"/><rect x="1294" y="414" width="5" height="11" fill="#000"/><rect x="1304" y="419" width="1" height="35" fill="#000"/><rect x="1302" y="424" width="5" height="22" fill="#000"/><rect x="1312" y="414" width="1" height="37" fill="#000"/><rect x="1310" y="422" width="5" height="24" fill="#000"/><rect x="1311" y="423" width="3" height="22" fill="#fff"/><rect x="1320" y="401" width="1" height="26" fill="#000"/><rect x="1318" y="404" width="5" height="19" fill="#000"/><rect x="1319" y="405" width="3" height="17" fill="#fff"/><rect x="1328" y="371" width="1" height="42" fill="#000"/><rect x="1326" y="377" width="5" height="28" fill="#000"/><rect x="1327" y="378" width="3" height="26" fill="#fff"/><rect x="1336" y="356" width="1" height="26" fill="#000"/><rect x="1334" y="377" width="5" height="1" fill="#000"/><rect x="1344" y="374" width="1" height="7" fill="#000"/><rect x="1342" y="374" width="5" height="3" fill="#000"/><rect x="1343" y="375" width="3" height="1" fill="#fff"/><rect x="1352" y="374" width="1" height="3" fill="#000"/><rect x="1350" y="374" width="5" height="2" fill="#000"/><rect x="1286" y="392" width="62" height="9" fill="#00ee00"/></g><polygon points="1362,30 1371,30 1366.5,35" fill="#c0c0c0" shape-rendering="auto"/><rect x="1441" y="397" width="8" height="1" fill="#ff0000"/><rect x="1447" y="395" width="4" height="5" fill="#ff0000"/><rect x="1448" y="396" width="2" height="3" fill="#fff"/><rect x="1451.5" y="382.5" width="99" height="32" fill="#fff" stroke="#ff0000" stroke-width="1"/><text x="1453.8" y="409.3" font-family="Liberation Sans, sans-serif" font-size="27.5px" fill="#ff0000" textLength="94.4" lengthAdjust="spacingAndGlyphs" >106.307</text><rect x="1629" y="51" width="2" height="1" fill="#000"/><text x="1634" y="55" font-family="Liberation Sans, sans-serif" font-size="9.8px" fill="#000" textLength="33.3" lengthAdjust="spacingAndGlyphs" >109.360</text><rect x="1629" y="84" width="2" height="1" fill="#000"/><text x="1634" y="88" font-family="Liberation Sans, sans-serif" font-size="9.8px" fill="#000" textLength="33.3" lengthAdjust="spacingAndGlyphs" >109.065</text><rect x="1629" y="117" width="2" height="1" fill="#000"/><text x="1634" y="121" font-family="Liberation Sans, sans-serif" font-size="9.8px" fill="#000" textLength="33.3" lengthAdjust="spacingAndGlyphs" >108.775</text><rect x="1629" y="150" width="2" height="1" fill="#000"/><text x="1634" y="154" font-family="Liberation Sans, sans-serif" font-size="9.8px" fill="#000" textLength="33.3" lengthAdjust="spacingAndGlyphs" >108.485</text><rect x="1629" y="183" width="2" height="1" fill="#000"/><text x="1634" y="187" font-family="Liberation Sans, sans-serif" font-size="9.8px" fill="#000" textLength="33.3" lengthAdjust="spacingAndGlyphs" >108.195</text><rect x="1629" y="216" width="2" height="1" fill="#000"/><text x="1634" y="220" font-family="Liberation Sans, sans-serif" font-size="9.8px" fill="#000" textLength="33.3" lengthAdjust="spacingAndGlyphs" >107.905</text><rect x="1629" y="249" width="2" height="1" fill="#000"/><text x="1634" y="253" font-family="Liberation Sans, sans-serif" font-size="9.8px" fill="#000" textLength="33.3" lengthAdjust="spacingAndGlyphs" >107.615</text><rect x="1629" y="282" width="2" height="1" fill="#000"/><text x="1634" y="286" font-family="Liberation Sans, sans-serif" font-size="9.8px" fill="#000" textLength="33.3" lengthAdjust="spacingAndGlyphs" >107.325</text><rect x="1629" y="315" width="2" height="1" fill="#000"/><text x="1634" y="319" font-family="Liberation Sans, sans-serif" font-size="9.8px" fill="#000" textLength="33.3" lengthAdjust="spacingAndGlyphs" >107.035</text><rect x="1629" y="348" width="2" height="1" fill="#000"/><text x="1634" y="352" font-family="Liberation Sans, sans-serif" font-size="9.8px" fill="#000" textLength="33.3" lengthAdjust="spacingAndGlyphs" >106.745</text><rect x="1629" y="381" width="2" height="1" fill="#000"/><text x="1634" y="385" font-family="Liberation Sans, sans-serif" font-size="9.8px" fill="#000" textLength="33.3" lengthAdjust="spacingAndGlyphs" >106.455</text><rect x="1629" y="414" width="2" height="1" fill="#000"/><text x="1634" y="418" font-family="Liberation Sans, sans-serif" font-size="9.8px" fill="#000" textLength="33.3" lengthAdjust="spacingAndGlyphs" >106.160</text><rect x="1629" y="447" width="2" height="1" fill="#000"/><text x="1634" y="451" font-family="Liberation Sans, sans-serif" font-size="9.8px" fill="#000" textLength="33.3" lengthAdjust="spacingAndGlyphs" >105.870</text><rect x="1629" y="480" width="2" height="1" fill="#000"/><text x="1634" y="484" font-family="Liberation Sans, sans-serif" font-size="9.8px" fill="#000" textLength="33.3" lengthAdjust="spacingAndGlyphs" >105.580</text><rect x="1629" y="513" width="2" height="1" fill="#000"/><text x="1634" y="517" font-family="Liberation Sans, sans-serif" font-size="9.8px" fill="#000" textLength="33.3" lengthAdjust="spacingAndGlyphs" >105.290</text><rect x="1629" y="546" width="2" height="1" fill="#000"/><text x="1634" y="550" font-family="Liberation Sans, sans-serif" font-size="9.8px" fill="#000" textLength="33.3" lengthAdjust="spacingAndGlyphs" >105.000</text><rect x="1629" y="579" width="2" height="1" fill="#000"/><text x="1634" y="583" font-family="Liberation Sans, sans-serif" font-size="9.8px" fill="#000" textLength="33.3" lengthAdjust="spacingAndGlyphs" >104.710</text><rect x="1630" y="319" width="41" height="11" fill="#ff0000"/><text x="1634" y="328" font-family="Liberation Sans, sans-serif" font-size="9.8px" fill="#fff" textLength="33.3" lengthAdjust="spacingAndGlyphs" >106.948</text><rect x="1630" y="342" width="41" height="11" fill="#ff0000"/><text x="1634" y="351" font-family="Liberation Sans, sans-serif" font-size="9.8px" fill="#fff" textLength="33.3" lengthAdjust="spacingAndGlyphs" >106.746</text><rect x="1630" y="370" width="41" height="11" fill="#000000"/><text x="1634" y="379" font-family="Liberation Sans, sans-serif" font-size="9.8px" fill="#fff" textLength="33.3" lengthAdjust="spacingAndGlyphs" >106.505</text><rect x="1630" y="392" width="41" height="11" fill="#32cd32"/><text x="1634" y="401" font-family="Liberation Sans, sans-serif" font-size="9.8px" fill="#fff" textLength="33.3" lengthAdjust="spacingAndGlyphs" >106.307</text><rect x="1630" y="413" width="41" height="11" fill="#0000ff"/><text x="1634" y="422" font-family="Liberation Sans, sans-serif" font-size="9.8px" fill="#fff" textLength="33.3" lengthAdjust="spacingAndGlyphs" >106.122</text><rect x="1630" y="433" width="41" height="11" fill="#0000ff"/><text x="1634" y="442" font-family="Liberation Sans, sans-serif" font-size="9.8px" fill="#fff" textLength="33.3" lengthAdjust="spacingAndGlyphs" >105.946</text><polygon points="3,40 10,40 6.5,36" fill="#000" shape-rendering="auto"/><text x="15" y="41" font-family="Liberation Sans, sans-serif" font-size="10px" fill="#000" textLength="54.4" lengthAdjust="spacingAndGlyphs" >USDJPY-,H4</text><text x="75.2" y="41" font-family="Liberation Sans, sans-serif" font-size="10px" fill="#000" textLength="33.0" lengthAdjust="spacingAndGlyphs" >106.514</text><text x="111.0" y="41" font-family="Liberation Sans, sans-serif" font-size="10px" fill="#000" textLength="33.0" lengthAdjust="spacingAndGlyphs" >106.519</text><text x="147.2" y="41" font-family="Liberation Sans, sans-serif" font-size="10px" fill="#000" textLength="33.0" lengthAdjust="spacingAndGlyphs" >106.500</text><text x="183.2" y="41" font-family="Liberation Sans, sans-serif" font-size="10px" fill="#000" textLength="33.0" lengthAdjust="spacingAndGlyphs" >106.505</text><rect x="1" y="47" width="223" height="68" fill="#fff"/><rect x="3" y="49" width="52" height="24" fill="url(#gtab)"/><rect x="3" y="73" width="109" height="40" fill="url(#gblk)"/><rect x="7" y="73" width="44" height="1" fill="#8c8cff"/><rect x="170" y="49" width="52" height="24" fill="url(#gtab)"/><rect x="114" y="73" width="108" height="40" fill="url(#gblk)"/><rect x="174" y="73" width="44" height="1" fill="#8c8cff"/><rect x="57.5" y="49.5" width="110" height="22" fill="#fff" stroke="#a0a0a0"/><rect x="58" y="50" width="20" height="21" fill="#e6e6e6"/><rect x="78" y="50" width="1" height="21" fill="#a0a0a0"/><rect x="147" y="50" width="20" height="21" fill="#e6e6e6"/><rect x="146" y="50" width="1" height="21" fill="#a0a0a0"/><polygon points="64.5,58 70.5,58 67.5,61" fill="#000" shape-rendering="auto"/><polygon points="153.5,61 159.5,61 156.5,58" fill="#000" shape-rendering="auto"/><text x="142.5" y="64.5" font-family="Liberation Sans, sans-serif" font-size="12px" fill="#000" text-anchor="end">1.00</text><text x="15.2" y="65" font-family="Liberation Sans, sans-serif" font-size="12.5px" fill="#fff" textLength="26.2" lengthAdjust="spacingAndGlyphs" >SELL</text><text x="183.6" y="65" font-family="Liberation Sans, sans-serif" font-size="12.5px" fill="#fff" textLength="23.4" lengthAdjust="spacingAndGlyphs" >BUY</text><text x="26" y="104" font-family="Liberation Sans, sans-serif" font-size="12.5px" font-weight="bold" fill="#fff">106</text><text x="51" y="104" font-family="Liberation Sans, sans-serif" font-size="32px" fill="#fff">50</text><text x="90" y="88" font-family="Liberation Sans, sans-serif" font-size="12px" fill="#fff">5</text><text x="137" y="104" font-family="Liberation Sans, sans-serif" font-size="12.5px" font-weight="bold" fill="#fff">106</text><text x="162" y="104" font-family="Liberation Sans, sans-serif" font-size="32px" fill="#fff">52</text><text x="201" y="88" font-family="Liberation Sans, sans-serif" font-size="12px" fill="#fff">6</text><text x="4" y="597" font-family="Liberation Sans, sans-serif" font-size="9.8px" fill="#000" textLength="127.6" lengthAdjust="spacingAndGlyphs" >MACD(12,26,9)&#160;0.1215&#160;0.0191</text><g clip-path="url(#cd)"><rect x="0" y="629" width="1" height="4" fill="#c0c0c0"/><rect x="8" y="629" width="1" height="2" fill="#c0c0c0"/><rect x="16" y="627" width="1" height="3" fill="#c0c0c0"/><rect x="24" y="625" width="1" height="5" fill="#c0c0c0"/><rect x="32" y="624" width="1" height="6" fill="#c0c0c0"/><rect x="40" y="620" width="1" height="10" fill="#c0c0c0"/><rect x="48" y="618" width="1" height="12" fill="#c0c0c0"/><rect x="56" y="617" width="1" height="13" fill="#c0c0c0"/><rect x="64" y="618" width="1" height="12" fill="#c0c0c0"/><rect x="72" y="619" width="1" height="11" fill="#c0c0c0"/><rect x="80" y="619" width="1" height="11" fill="#c0c0c0"/><rect x="88" y="618" width="1" height="12" fill="#c0c0c0"/><rect x="96" y="617" width="1" height="13" fill="#c0c0c0"/><rect x="104" y="618" width="1" height="12" fill="#c0c0c0"/><rect x="112" y="619" width="1" height="11" fill="#c0c0c0"/><rect x="120" y="620" width="1" height="10" fill="#c0c0c0"/><rect x="128" y="613" width="1" height="17" fill="#c0c0c0"/><rect x="136" y="607" width="1" height="23" fill="#c0c0c0"/><rect x="144" y="602" width="1" height="28" fill="#c0c0c0"/><rect x="152" y="600" width="1" height="30" fill="#c0c0c0"/><rect x="160" y="599" width="1" height="31" fill="#c0c0c0"/><rect x="168" y="597" width="1" height="33" fill="#c0c0c0"/><rect x="176" y="596" width="1" height="34" fill="#c0c0c0"/><rect x="184" y="595" width="1" height="35" fill="#c0c0c0"/><rect x="192" y="596" width="1" height="34" fill="#c0c0c0"/><rect x="200" y="598" width="1" height="32" fill="#c0c0c0"/><rect x="208" y="599" width="1" height="31" fill="#c0c0c0"/><rect x="216" y="600" width="1" height="30" fill="#c0c0c0"/><rect x="224" y="598" width="1" height="32" fill="#c0c0c0"/><rect x="232" y="598" width="1" height="32" fill="#c0c0c0"/><rect x="240" y="597" width="1" height="33" fill="#c0c0c0"/><rect x="248" y="600" width="1" height="30" fill="#c0c0c0"/><rect x="256" y="602" width="1" height="28" fill="#c0c0c0"/><rect x="264" y="607" width="1" height="23" fill="#c0c0c0"/><rect x="272" y="608" width="1" height="22" fill="#c0c0c0"/><rect x="280" y="610" width="1" height="20" fill="#c0c0c0"/><rect x="288" y="613" width="1" height="17" fill="#c0c0c0"/><rect x="296" y="615" width="1" height="15" fill="#c0c0c0"/><rect x="304" y="617" width="1" height="13" fill="#c0c0c0"/><rect x="312" y="619" width="1" height="11" fill="#c0c0c0"/><rect x="320" y="620" width="1" height="10" fill="#c0c0c0"/><rect x="328" y="617" width="1" height="13" fill="#c0c0c0"/><rect x="336" y="615" width="1" height="15" fill="#c0c0c0"/><rect x="344" y="608" width="1" height="22" fill="#c0c0c0"/><rect x="352" y="604" width="1" height="26" fill="#c0c0c0"/><rect x="360" y="604" width="1" height="26" fill="#c0c0c0"/><rect x="368" y="614" width="1" height="16" fill="#c0c0c0"/><rect x="376" y="629" width="1" height="7" fill="#c0c0c0"/><rect x="384" y="629" width="1" height="23" fill="#c0c0c0"/><rect x="392" y="629" width="1" height="40" fill="#c0c0c0"/><rect x="400" y="629" width="1" height="56" fill="#c0c0c0"/><rect x="408" y="629" width="1" height="68" fill="#c0c0c0"/><rect x="416" y="629" width="1" height="80" fill="#c0c0c0"/><rect x="424" y="629" width="1" height="90" fill="#c0c0c0"/><rect x="432" y="629" width="1" height="96" fill="#c0c0c0"/><rect x="440" y="629" width="1" height="109" fill="#c0c0c0"/><rect x="448" y="629" width="1" height="118" fill="#c0c0c0"/><rect x="456" y="629" width="1" height="122" fill="#c0c0c0"/><rect x="464" y="629" width="1" height="124" fill="#c0c0c0"/><rect x="472" y="629" width="1" height="123" fill="#c0c0c0"/><rect x="480" y="629" width="1" height="128" fill="#c0c0c0"/><rect x="488" y="629" width="1" height="118" fill="#c0c0c0"/><rect x="496" y="629" width="1" height="111" fill="#c0c0c0"/><rect x="504" y="629" width="1" height="101" fill="#c0c0c0"/><rect x="512" y="629" width="1" height="94" fill="#c0c0c0"/><rect x="520" y="629" width="1" height="86" fill="#c0c0c0"/><rect x="528" y="629" width="1" height="81" fill="#c0c0c0"/><rect x="536" y="629" width="1" height="81" fill="#c0c0c0"/><rect x="544" y="629" width="1" height="77" fill="#c0c0c0"/><rect x="552" y="629" width="1" height="78" fill="#c0c0c0"/><rect x="560" y="629" width="1" height="83" fill="#c0c0c0"/><rect x="568" y="629" width="1" height="76" fill="#c0c0c0"/><rect x="576" y="629" width="1" height="72" fill="#c0c0c0"/><rect x="584" y="629" width="1" height="66" fill="#c0c0c0"/><rect x="592" y="629" width="1" height="62" fill="#c0c0c0"/><rect x="600" y="629" width="1" height="61" fill="#c0c0c0"/><rect x="608" y="629" width="1" height="58" fill="#c0c0c0"/><rect x="616" y="629" width="1" height="55" fill="#c0c0c0"/><rect x="624" y="629" width="1" height="54" fill="#c0c0c0"/><rect x="632" y="629" width="1" height="52" fill="#c0c0c0"/><rect x="640" y="629" width="1" height="49" fill="#c0c0c0"/><rect x="648" y="629" width="1" height="50" fill="#c0c0c0"/><rect x="656" y="629" width="1" height="57" fill="#c0c0c0"/><rect x="664" y="629" width="1" height="57" fill="#c0c0c0"/><rect x="672" y="629" width="1" height="60" fill="#c0c0c0"/><rect x="680" y="629" width="1" height="60" fill="#c0c0c0"/><rect x="688" y="629" width="1" height="59" fill="#c0c0c0"/><rect x="696" y="629" width="1" height="63" fill="#c0c0c0"/><rect x="704" y="629" width="1" height="62" fill="#c0c0c0"/><rect x="712" y="629" width="1" height="61" fill="#c0c0c0"/><rect x="720" y="629" width="1" height="59" fill="#c0c0c0"/><rect x="728" y="629" width="1" height="55" fill="#c0c0c0"/><rect x="736" y="629" width="1" height="55" fill="#c0c0c0"/><rect x="744" y="629" width="1" height="55" fill="#c0c0c0"/><rect x="752" y="629" width="1" height="33" fill="#c0c0c0"/><rect x="760" y="629" width="1" height="15" fill="#c0c0c0"/><rect x="768" y="629" width="1" height="1" fill="#c0c0c0"/><rect x="776" y="624" width="1" height="6" fill="#c0c0c0"/><rect x="784" y="617" width="1" height="13" fill="#c0c0c0"/><rect x="792" y="621" width="1" height="9" fill="#c0c0c0"/><rect x="800" y="624" width="1" height="6" fill="#c0c0c0"/><rect x="808" y="624" width="1" height="6" fill="#c0c0c0"/><rect x="816" y="626" width="1" height="4" fill="#c0c0c0"/><rect x="824" y="627" width="1" height="3" fill="#c0c0c0"/><rect x="832" y="623" width="1" height="7" fill="#c0c0c0"/><rect x="840" y="622" width="1" height="8" fill="#c0c0c0"/><rect x="848" y="621" width="1" height="9" fill="#c0c0c0"/><rect x="856" y="622" width="1" height="8" fill="#c0c0c0"/><rect x="864" y="621" width="1" height="9" fill="#c0c0c0"/><rect x="872" y="619" width="1" height="11" fill="#c0c0c0"/><rect x="880" y="619" width="1" height="11" fill="#c0c0c0"/><rect x="888" y="617" width="1" height="13" fill="#c0c0c0"/><rect x="896" y="614" width="1" height="16" fill="#c0c0c0"/><rect x="904" y="613" width="1" height="17" fill="#c0c0c0"/><rect x="912" y="611" width="1" height="19" fill="#c0c0c0"/><rect x="920" y="610" width="1" height="20" fill="#c0c0c0"/><rect x="928" y="609" width="1" height="21" fill="#c0c0c0"/><rect x="936" y="605" width="1" height="25" fill="#c0c0c0"/><rect x="944" y="604" width="1" height="26" fill="#c0c0c0"/><rect x="952" y="601" width="1" height="29" fill="#c0c0c0"/><rect x="960" y="601" width="1" height="29" fill="#c0c0c0"/><rect x="968" y="600" width="1" height="30" fill="#c0c0c0"/><rect x="976" y="602" width="1" height="28" fill="#c0c0c0"/><rect x="984" y="606" width="1" height="24" fill="#c0c0c0"/><rect x="992" y="609" width="1" height="21" fill="#c0c0c0"/><rect x="1000" y="614" width="1" height="16" fill="#c0c0c0"/><rect x="1008" y="616" width="1" height="14" fill="#c0c0c0"/><rect x="1016" y="616" width="1" height="14" fill="#c0c0c0"/><rect x="1024" y="614" width="1" height="16" fill="#c0c0c0"/><rect x="1032" y="614" width="1" height="16" fill="#c0c0c0"/><rect x="1040" y="614" width="1" height="16" fill="#c0c0c0"/><rect x="1048" y="612" width="1" height="18" fill="#c0c0c0"/><rect x="1056" y="611" width="1" height="19" fill="#c0c0c0"/><rect x="1064" y="613" width="1" height="17" fill="#c0c0c0"/><rect x="1072" y="615" width="1" height="15" fill="#c0c0c0"/><rect x="1080" y="614" width="1" height="16" fill="#c0c0c0"/><rect x="1088" y="616" width="1" height="14" fill="#c0c0c0"/><rect x="1096" y="619" width="1" height="11" fill="#c0c0c0"/><rect x="1104" y="619" width="1" height="11" fill="#c0c0c0"/><rect x="1112" y="619" width="1" height="11" fill="#c0c0c0"/><rect x="1120" y="617" width="1" height="13" fill="#c0c0c0"/><rect x="1128" y="615" width="1" height="15" fill="#c0c0c0"/><rect x="1136" y="629" width="1" height="5" fill="#c0c0c0"/><rect x="1144" y="629" width="1" height="21" fill="#c0c0c0"/><rect x="1152" y="629" width="1" height="39" fill="#c0c0c0"/><rect x="1160" y="629" width="1" height="44" fill="#c0c0c0"/><rect x="1168" y="629" width="1" height="43" fill="#c0c0c0"/><rect x="1176" y="629" width="1" height="40" fill="#c0c0c0"/><rect x="1184" y="629" width="1" height="35" fill="#c0c0c0"/><rect x="1192" y="629" width="1" height="29" fill="#c0c0c0"/><rect x="1200" y="629" width="1" height="26" fill="#c0c0c0"/><rect x="1208" y="629" width="1" height="28" fill="#c0c0c0"/><rect x="1216" y="629" width="1" height="29" fill="#c0c0c0"/><rect x="1224" y="629" width="1" height="29" fill="#c0c0c0"/><rect x="1232" y="629" width="1" height="27" fill="#c0c0c0"/><rect x="1240" y="629" width="1" height="27" fill="#c0c0c0"/><rect x="1248" y="629" width="1" height="26" fill="#c0c0c0"/><rect x="1256" y="629" width="1" height="24" fill="#c0c0c0"/><rect x="1264" y="629" width="1" height="23" fill="#c0c0c0"/><rect x="1272" y="629" width="1" height="23" fill="#c0c0c0"/><rect x="1280" y="629" width="1" height="20" fill="#c0c0c0"/><rect x="1288" y="629" width="1" height="13" fill="#c0c0c0"/><rect x="1296" y="629" width="1" height="9" fill="#c0c0c0"/><rect x="1304" y="629" width="1" height="8" fill="#c0c0c0"/><rect x="1312" y="629" width="1" height="5" fill="#c0c0c0"/><rect x="1320" y="628" width="1" height="2" fill="#c0c0c0"/><rect x="1328" y="621" width="1" height="9" fill="#c0c0c0"/><rect x="1336" y="615" width="1" height="15" fill="#c0c0c0"/><rect x="1344" y="610" width="1" height="20" fill="#c0c0c0"/><rect x="1352" y="607" width="1" height="23" fill="#c0c0c0"/><polyline points="0.5,644.6 8.5,642.2 16.5,639.7 24.5,636.9 32.5,634.1 40.5,631.3 48.5,628.5 56.5,626.3 64.5,623.3 72.5,621.6 80.5,620.3 88.5,619.2 96.5,618.4 104.5,617.8 112.5,617.7 120.5,617.9 128.5,617.6 136.5,616.3 144.5,614.4 152.5,612.2 160.5,610.1 168.5,607.8 176.5,605.3 184.5,602.6 192.5,600.0 200.5,598.3 208.5,597.5 216.5,597.2 224.5,597.0 232.5,596.9 240.5,596.9 248.5,597.4 256.5,598.2 264.5,599.4 272.5,600.5 280.5,601.7 288.5,603.2 296.5,605.0 304.5,607.1 312.5,609.6 320.5,611.7 328.5,613.4 336.5,614.4 344.5,614.3 352.5,613.6 360.5,612.6 368.5,612.4 376.5,614.7 384.5,618.5 392.5,624.2 400.5,631.8 408.5,641.0 416.5,652.4 424.5,665.3 432.5,679.0 440.5,692.9 448.5,705.2 456.5,716.2 464.5,725.6 472.5,733.0 480.5,739.7 488.5,743.9 496.5,746.2 504.5,746.7 512.5,745.0 520.5,741.3 528.5,736.8 536.5,732.1 544.5,726.9 552.5,721.4 560.5,717.4 568.5,713.5 576.5,710.3 584.5,707.2 592.5,704.6 600.5,702.3 608.5,699.6 616.5,697.2 624.5,694.6 632.5,691.2 640.5,688.2 648.5,685.8 656.5,684.8 664.5,684.2 672.5,684.2 680.5,684.5 688.5,685.0 696.5,685.9 704.5,687.0 712.5,688.3 720.5,689.3 728.5,689.1 736.5,688.8 744.5,688.3 752.5,685.3 760.5,680.3 768.5,673.5 776.5,665.9 784.5,657.7 792.5,650.1 800.5,643.4 808.5,636.6 816.5,630.1 824.5,626.1 832.5,623.7 840.5,622.6 848.5,622.3 856.5,622.8 864.5,622.9 872.5,622.4 880.5,621.7 888.5,620.7 896.5,619.3 904.5,618.2 912.5,616.9 920.5,615.7 928.5,614.2 936.5,612.4 944.5,610.7 952.5,608.8 960.5,607.1 968.5,605.6 976.5,604.4 984.5,603.8 992.5,603.7 1000.5,604.3 1008.5,605.5 1016.5,606.8 1024.5,608.2 1032.5,609.7 1040.5,611.1 1048.5,612.2 1056.5,612.8 1064.5,613.3 1072.5,613.4 1080.5,613.2 1088.5,613.3 1096.5,613.8 1104.5,614.3 1112.5,614.9 1120.5,615.5 1128.5,615.8 1136.5,618.3 1144.5,622.3 1152.5,628.3 1160.5,634.8 1168.5,640.8 1176.5,646.5 1184.5,651.7 1192.5,656.3 1200.5,660.9 1208.5,663.5 1216.5,664.4 1224.5,663.2 1232.5,661.3 1240.5,659.5 1248.5,657.9 1256.5,656.7 1264.5,656.0 1272.5,655.6 1280.5,654.7 1288.5,653.0 1296.5,650.8 1304.5,648.7 1312.5,646.2 1320.5,643.2 1328.5,639.5 1336.5,635.2 1344.5,630.5 1352.5,625.7" fill="none" stroke="#ff0000" stroke-width="1" stroke-dasharray="3 3"/></g><rect x="1629" y="586" width="2" height="1" fill="#000"/><rect x="1629" y="629" width="2" height="1" fill="#000"/><rect x="1629" y="766" width="2" height="1" fill="#000"/><text x="1632" y="595" font-family="Liberation Sans, sans-serif" font-size="9.8px" fill="#000" textLength="28.8" lengthAdjust="spacingAndGlyphs" >0.2328</text><text x="1632" y="633" font-family="Liberation Sans, sans-serif" font-size="9.8px" fill="#000" textLength="18.2" lengthAdjust="spacingAndGlyphs" >0.00</text><text x="1632" y="764" font-family="Liberation Sans, sans-serif" font-size="9.8px" fill="#000" textLength="32.3" lengthAdjust="spacingAndGlyphs" >-0.7342</text><text x="4" y="782" font-family="Liberation Sans, sans-serif" font-size="9.8px" fill="#000" textLength="68.3" lengthAdjust="spacingAndGlyphs" >RSI(14)&#160;61.5640</text><g clip-path="url(#cr)"><line x1="0" y1="802.5" x2="1628" y2="802.5" stroke="#c0c0c0" stroke-width="1" stroke-dasharray="3 3" stroke-dashoffset="-1"/><line x1="0" y1="849.5" x2="1628" y2="849.5" stroke="#c0c0c0" stroke-width="1" stroke-dasharray="3 3" stroke-dashoffset="-1"/><line x1="0" y1="905.5" x2="1628" y2="905.5" stroke="#c0c0c0" stroke-width="1" stroke-dasharray="3 3" stroke-dashoffset="-1"/><polyline points="0.5,848.7 8.5,839.5 16.5,835.8 24.5,834.8 32.5,840.5 40.5,829.5 48.5,831.7 56.5,836.2 64.5,847.4 72.5,845.0 80.5,843.4 88.5,835.7 96.5,837.3 104.5,840.4 112.5,849.4 120.5,843.3 128.5,820.2 136.5,815.5 144.5,820.1 152.5,824.4 160.5,824.4 168.5,821.8 176.5,820.6 184.5,821.4 192.5,827.5 200.5,835.5 208.5,829.2 216.5,831.4 224.5,820.5 232.5,826.5 240.5,823.0 248.5,841.0 256.5,840.4 264.5,850.3 272.5,841.1 280.5,845.0 288.5,847.5 296.5,847.1 304.5,848.1 312.5,848.1 320.5,845.7 328.5,832.0 336.5,830.1 344.5,812.7 352.5,820.9 360.5,836.1 368.5,864.8 376.5,887.1 384.5,880.5 392.5,886.8 400.5,888.7 408.5,889.8 416.5,892.5 424.5,893.5 432.5,893.5 440.5,900.6 448.5,901.0 456.5,894.0 464.5,894.7 472.5,888.7 480.5,896.5 488.5,864.8 496.5,867.2 504.5,862.0 512.5,864.3 520.5,861.2 528.5,866.2 536.5,871.4 544.5,863.6 552.5,871.9 560.5,876.2 568.5,859.0 576.5,861.4 584.5,858.1 592.5,861.1 600.5,863.4 608.5,861.3 616.5,862.5 624.5,865.1 632.5,861.4 640.5,862.5 648.5,867.2 656.5,877.5 664.5,867.3 672.5,871.6 680.5,868.4 688.5,867.4 696.5,875.3 704.5,865.5 712.5,867.4 720.5,865.0 728.5,861.7 736.5,868.8 744.5,868.0 752.5,831.1 760.5,829.7 768.5,832.3 776.5,839.4 784.5,837.5 792.5,852.5 800.5,854.0 808.5,848.9 816.5,851.0 824.5,851.8 832.5,842.3 840.5,846.4 848.5,846.0 856.5,848.6 864.5,846.8 872.5,843.1 880.5,845.2 888.5,841.1 896.5,839.5 904.5,841.8 912.5,836.8 920.5,840.3 928.5,838.7 936.5,831.6 944.5,837.3 952.5,832.2 960.5,836.4 968.5,835.6 976.5,842.0 984.5,847.7 992.5,847.5 1000.5,854.8 1008.5,850.9 1016.5,841.4 1024.5,838.5 1032.5,841.5 1040.5,839.8 1048.5,835.4 1056.5,837.5 1064.5,847.0 1072.5,847.0 1080.5,839.4 1088.5,848.0 1096.5,850.5 1104.5,845.8 1112.5,841.1 1120.5,837.6 1128.5,832.9 1136.5,883.9 1144.5,883.9 1152.5,891.2 1160.5,868.2 1168.5,859.6 1176.5,855.7 1184.5,852.2 1192.5,848.4 1200.5,853.3 1208.5,860.8 1216.5,858.4 1224.5,858.4 1232.5,856.2 1240.5,858.1 1248.5,858.1 1256.5,853.9 1264.5,857.6 1272.5,858.6 1280.5,851.7 1288.5,840.8 1296.5,844.5 1304.5,851.7 1312.5,844.1 1320.5,839.0 1328.5,831.9 1336.5,832.1 1344.5,831.2 1352.5,831.8" fill="none" stroke="#1e90ff" stroke-width="1"/></g><rect x="1629" y="771" width="2" height="1" fill="#000"/><text x="1632" y="780" font-family="Liberation Sans, sans-serif" font-size="9.8px" fill="#000" textLength="16.4" lengthAdjust="spacingAndGlyphs" >100</text><text x="1632" y="806" font-family="Liberation Sans, sans-serif" font-size="9.8px" fill="#000" textLength="11.2" lengthAdjust="spacingAndGlyphs" >80</text><text x="1632" y="853" font-family="Liberation Sans, sans-serif" font-size="9.8px" fill="#000" textLength="11.2" lengthAdjust="spacingAndGlyphs" >50</text><text x="1632" y="909" font-family="Liberation Sans, sans-serif" font-size="9.8px" fill="#000" textLength="11.2" lengthAdjust="spacingAndGlyphs" >15</text><rect x="1629" y="928" width="2" height="1" fill="#000"/><text x="1632" y="926" font-family="Liberation Sans, sans-serif" font-size="9.8px" fill="#000" textLength="6.0" lengthAdjust="spacingAndGlyphs" >0</text><rect x="0" y="930" width="1" height="3" fill="#000"/><text x="-0.3" y="942" font-family="Liberation Sans, sans-serif" font-size="9.8px" fill="#000" textLength="46.4" lengthAdjust="spacingAndGlyphs" >22&#160;Jul&#160;2019</text><rect x="64" y="930" width="1" height="3" fill="#000"/><text x="63.5" y="942" font-family="Liberation Sans, sans-serif" font-size="9.8px" fill="#000" textLength="50.3" lengthAdjust="spacingAndGlyphs" >24&#160;Jul&#160;04:00</text><rect x="128" y="930" width="1" height="3" fill="#000"/><text x="127.5" y="942" font-family="Liberation Sans, sans-serif" font-size="9.8px" fill="#000" textLength="50.3" lengthAdjust="spacingAndGlyphs" >25&#160;Jul&#160;12:00</text><rect x="192" y="930" width="1" height="3" fill="#000"/><text x="191.5" y="942" font-family="Liberation Sans, sans-serif" font-size="9.8px" fill="#000" textLength="50.3" lengthAdjust="spacingAndGlyphs" >28&#160;Jul&#160;23:00</text><rect x="256" y="930" width="1" height="3" fill="#000"/><text x="255.5" y="942" font-family="Liberation Sans, sans-serif" font-size="9.8px" fill="#000" textLength="50.3" lengthAdjust="spacingAndGlyphs" >30&#160;Jul&#160;04:00</text><rect x="320" y="930" width="1" height="3" fill="#000"/><text x="319.5" y="942" font-family="Liberation Sans, sans-serif" font-size="9.8px" fill="#000" textLength="50.3" lengthAdjust="spacingAndGlyphs" >31&#160;Jul&#160;12:00</text><rect x="384" y="930" width="1" height="3" fill="#000"/><text x="383.5" y="942" font-family="Liberation Sans, sans-serif" font-size="9.8px" fill="#000" textLength="50.3" lengthAdjust="spacingAndGlyphs" >1&#160;Aug&#160;20:00</text><rect x="448" y="930" width="1" height="3" fill="#000"/><text x="447.5" y="942" font-family="Liberation Sans, sans-serif" font-size="9.8px" fill="#000" textLength="50.3" lengthAdjust="spacingAndGlyphs" >5&#160;Aug&#160;04:00</text><rect x="512" y="930" width="1" height="3" fill="#000"/><text x="511.5" y="942" font-family="Liberation Sans, sans-serif" font-size="9.8px" fill="#000" textLength="50.3" lengthAdjust="spacingAndGlyphs" >6&#160;Aug&#160;12:00</text><rect x="576" y="930" width="1" height="3" fill="#000"/><text x="575.5" y="942" font-family="Liberation Sans, sans-serif" font-size="9.8px" fill="#000" textLength="50.3" lengthAdjust="spacingAndGlyphs" >7&#160;Aug&#160;20:00</text><rect x="640" y="930" width="1" height="3" fill="#000"/><text x="639.5" y="942" font-family="Liberation Sans, sans-serif" font-size="9.8px" fill="#000" textLength="50.3" lengthAdjust="spacingAndGlyphs" >9&#160;Aug&#160;04:00</text><rect x="704" y="930" width="1" height="3" fill="#000"/><text x="703.5" y="942" font-family="Liberation Sans, sans-serif" font-size="9.8px" fill="#000" textLength="56.0" lengthAdjust="spacingAndGlyphs" >12&#160;Aug&#160;12:00</text><rect x="768" y="930" width="1" height="3" fill="#000"/><text x="767.5" y="942" font-family="Liberation Sans, sans-serif" font-size="9.8px" fill="#000" textLength="56.0" lengthAdjust="spacingAndGlyphs" >13&#160;Aug&#160;20:00</text><rect x="832" y="930" width="1" height="3" fill="#000"/><text x="831.5" y="942" font-family="Liberation Sans, sans-serif" font-size="9.8px" fill="#000" textLength="56.0" lengthAdjust="spacingAndGlyphs" >15&#160;Aug&#160;04:00</text><rect x="896" y="930" width="1" height="3" fill="#000"/><text x="895.5" y="942" font-family="Liberation Sans, sans-serif" font-size="9.8px" fill="#000" textLength="56.0" lengthAdjust="spacingAndGlyphs" >16&#160;Aug&#160;12:00</text><rect x="960" y="930" width="1" height="3" fill="#000"/><text x="959.5" y="942" font-family="Liberation Sans, sans-serif" font-size="9.8px" fill="#000" textLength="56.0" lengthAdjust="spacingAndGlyphs" >19&#160;Aug&#160;20:00</text><rect x="1024" y="930" width="1" height="3" fill="#000"/><text x="1023.5" y="942" font-family="Liberation Sans, sans-serif" font-size="9.8px" fill="#000" textLength="56.0" lengthAdjust="spacingAndGlyphs" >21&#160;Aug&#160;04:00</text><rect x="1088" y="930" width="1" height="3" fill="#000"/><text x="1087.5" y="942" font-family="Liberation Sans, sans-serif" font-size="9.8px" fill="#000" textLength="56.0" lengthAdjust="spacingAndGlyphs" >22&#160;Aug&#160;12:00</text><rect x="1152" y="930" width="1" height="3" fill="#000"/><text x="1151.5" y="942" font-family="Liberation Sans, sans-serif" font-size="9.8px" fill="#000" textLength="56.0" lengthAdjust="spacingAndGlyphs" >25&#160;Aug&#160;23:00</text><rect x="1216" y="930" width="1" height="3" fill="#000"/><text x="1215.5" y="942" font-family="Liberation Sans, sans-serif" font-size="9.8px" fill="#000" textLength="56.0" lengthAdjust="spacingAndGlyphs" >27&#160;Aug&#160;04:00</text><rect x="1280" y="930" width="1" height="3" fill="#000"/><text x="1279.5" y="942" font-family="Liberation Sans, sans-serif" font-size="9.8px" fill="#000" textLength="56.0" lengthAdjust="spacingAndGlyphs" >28&#160;Aug&#160;12:00</text><rect x="1344" y="930" width="1" height="3" fill="#000"/><text x="1343.5" y="942" font-family="Liberation Sans, sans-serif" font-size="9.8px" fill="#000" textLength="56.0" lengthAdjust="spacingAndGlyphs" >29&#160;Aug&#160;20:00</text><path d="M12 1L4 8.5 M8.5 5H20Q16 11 6 16 M9.5 8.5L13 11.5 M16 13L3.5 21.5 M11 17H25Q20 26 4 29.5 M12.5 21L16 24" transform="translate(1431,459)" fill="none" stroke="#101010" stroke-width="2.7" stroke-linecap="round" stroke-linejoin="round" shape-rendering="auto"/><path d="M12 1L4 8.5 M8.5 5H20Q16 11 6 16 M9.5 8.5L13 11.5 M16 13L3.5 21.5 M11 17H25Q20 26 4 29.5 M12.5 21L16 24" transform="translate(1430,458)" fill="none" stroke="#00f000" stroke-width="2.7" stroke-linecap="round" stroke-linejoin="round" shape-rendering="auto"/><path d="M14 0.5L16.5 4 M3 9V5.5H27L25 8.5 M11 8.5Q9 12 5 15 M18 8.5Q22 11 25 14 M7 17H23 M15 17V27 M2.5 27.5H27.5" transform="translate(1463.5,459)" fill="none" stroke="#101010" stroke-width="2.7" stroke-linecap="round" stroke-linejoin="round" shape-rendering="auto"/><path d="M14 0.5L16.5 4 M3 9V5.5H27L25 8.5 M11 8.5Q9 12 5 15 M18 8.5Q22 11 25 14 M7 17H23 M15 17V27 M2.5 27.5H27.5" transform="translate(1462.5,458)" fill="none" stroke="#00f000" stroke-width="2.7" stroke-linecap="round" stroke-linejoin="round" shape-rendering="auto"/><path d="M1 7H11 M6.5 1.5L2.5 15H11.5 M7 8.5V29 M1 22.5L11.5 19.5 M13 7.5H28 M12.5 13.5H29 M21.5 1.5L17.5 19.5H28L22 26 M18 23.5L24 29" transform="translate(1495.5,459)" fill="none" stroke="#101010" stroke-width="2.7" stroke-linecap="round" stroke-linejoin="round" shape-rendering="auto"/><path d="M1 7H11 M6.5 1.5L2.5 15H11.5 M7 8.5V29 M1 22.5L11.5 19.5 M13 7.5H28 M12.5 13.5H29 M21.5 1.5L17.5 19.5H28L22 26 M18 23.5L24 29" transform="translate(1494.5,458)" fill="none" stroke="#00f000" stroke-width="2.7" stroke-linecap="round" stroke-linejoin="round" shape-rendering="auto"/><path d="M1 8.5H11 M6.5 1V27.5L3.5 25 M1 21L11.5 15 M27.5 2L15.5 6 M15.5 6V16Q15 24 11.5 29 M15.5 13H29.5 M22.5 13V29.5" transform="translate(1527.5,459)" fill="none" stroke="#101010" stroke-width="2.7" stroke-linecap="round" stroke-linejoin="round" shape-rendering="auto"/><path d="M1 8.5H11 M6.5 1V27.5L3.5 25 M1 21L11.5 15 M27.5 2L15.5 6 M15.5 6V16Q15 24 11.5 29 M15.5 13H29.5 M22.5 13V29.5" transform="translate(1526.5,458)" fill="none" stroke="#00f000" stroke-width="2.7" stroke-linecap="round" stroke-linejoin="round" shape-rendering="auto"/><path d="M14.5 0.5V11 M14.5 5.5H27 M6.5 11.5H24V20.5H6.5Z M4.5 24.5L1.5 29.5 M10.5 25L11.5 29.5 M17.5 25L19 29.5 M23.5 24.5L28 29.5" transform="translate(1560.5,459)" fill="none" stroke="#101010" stroke-width="2.7" stroke-linecap="round" stroke-linejoin="round" shape-rendering="auto"/><path d="M14.5 0.5V11 M14.5 5.5H27 M6.5 11.5H24V20.5H6.5Z M4.5 24.5L1.5 29.5 M10.5 25L11.5 29.5 M17.5 25L19 29.5 M23.5 24.5L28 29.5" transform="translate(1559.5,458)" fill="none" stroke="#00f000" stroke-width="2.7" stroke-linecap="round" stroke-linejoin="round" shape-rendering="auto"/></svg></body></html>
